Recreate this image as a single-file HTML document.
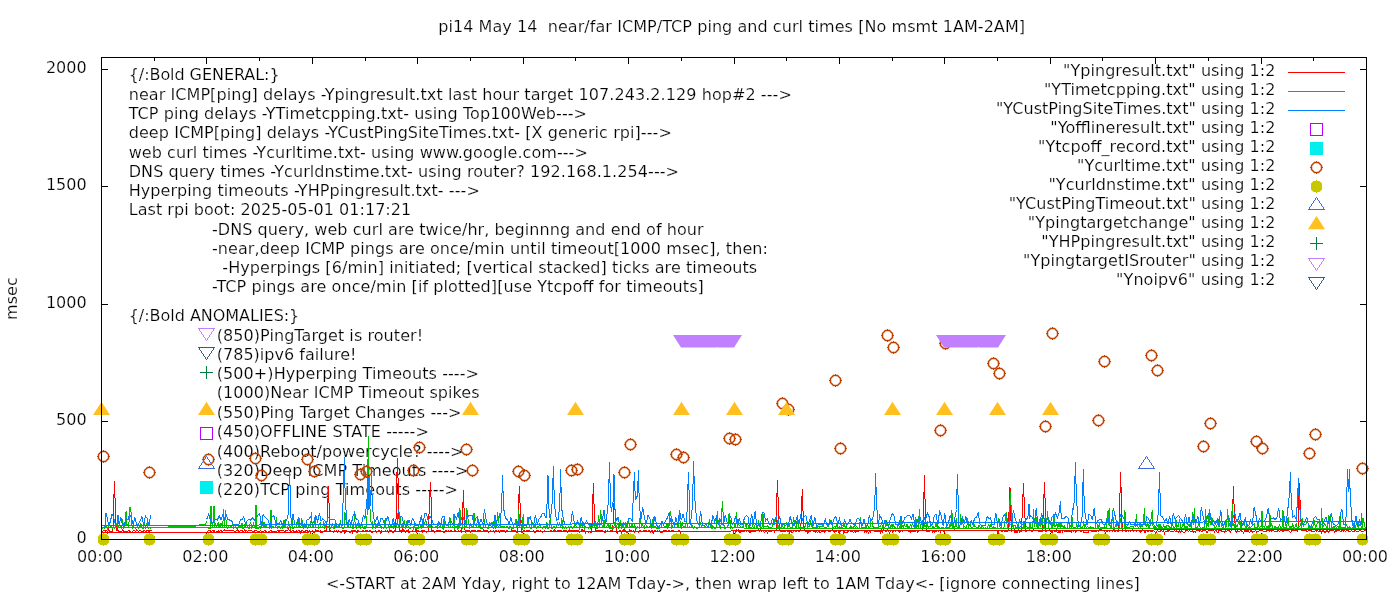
<!DOCTYPE html><html><head><meta charset="utf-8"><title>pi14 ping plot</title><style>html,body{margin:0;padding:0;background:#fff}svg{display:block}text{fill:#000;stroke:#fff;stroke-width:.2px}</style></head><body><svg width="1400" height="600" viewBox="0 0 1400 600" font-family="DejaVu Sans, Liberation Sans, sans-serif" font-size="16">
<rect width="1400" height="600" fill="#fff"/>
<g id="back">
<path d="M101.5 540v-7M101.5 57v7M154.5 540v-4M154.5 57v4M206.5 540v-7M206.5 57v7M259.5 540v-4M259.5 57v4M312.5 540v-7M312.5 57v7M365.5 540v-4M365.5 57v4M417.5 540v-7M417.5 57v7M470.5 540v-4M470.5 57v4M523.5 540v-7M523.5 57v7M575.5 540v-4M575.5 57v4M628.5 540v-7M628.5 57v7M681.5 540v-4M681.5 57v4M734.5 540v-7M734.5 57v7M786.5 540v-4M786.5 57v4M839.5 540v-7M839.5 57v7M892.5 540v-4M892.5 57v4M944.5 540v-7M944.5 57v7M997.5 540v-4M997.5 57v4M1050.5 540v-7M1050.5 57v7M1102.5 540v-4M1102.5 57v4M1155.5 540v-7M1155.5 57v7M1208.5 540v-4M1208.5 57v4M1261.5 540v-7M1261.5 57v7M1313.5 540v-4M1313.5 57v4M1366.5 540v-7M1366.5 57v7M101 539.5h7M1367 539.5h-7M101 421.5h7M1367 421.5h-7M101 304.5h7M1367 304.5h-7M101 186.5h7M1367 186.5h-7M101 69.5h7M1367 69.5h-7" stroke="#000" fill="none" shape-rendering="crispEdges"/>
<text x="86.6" y="542.8" text-anchor="end">0</text>
<text x="86.6" y="424.8" text-anchor="end">500</text>
<text x="86.6" y="307.8" text-anchor="end">1000</text>
<text x="86.6" y="189.8" text-anchor="end">1500</text>
<text x="86.6" y="72.8" text-anchor="end">2000</text>
<text x="100.0" y="561.7" text-anchor="middle">00:00</text>
<text x="205.4" y="561.7" text-anchor="middle">02:00</text>
<text x="310.8" y="561.7" text-anchor="middle">04:00</text>
<text x="416.2" y="561.7" text-anchor="middle">06:00</text>
<text x="521.7" y="561.7" text-anchor="middle">08:00</text>
<text x="627.1" y="561.7" text-anchor="middle">10:00</text>
<text x="732.5" y="561.7" text-anchor="middle">12:00</text>
<text x="837.9" y="561.7" text-anchor="middle">14:00</text>
<text x="943.3" y="561.7" text-anchor="middle">16:00</text>
<text x="1048.8" y="561.7" text-anchor="middle">18:00</text>
<text x="1154.2" y="561.7" text-anchor="middle">20:00</text>
<text x="1259.6" y="561.7" text-anchor="middle">22:00</text>
<text x="1365.0" y="561.7" text-anchor="middle">00:00</text>
<text x="438.2" y="32" textLength="586.8" lengthAdjust="spacing" xml:space="preserve" style="white-space:pre">pi14 May 14  near/far ICMP/TCP ping and curl times [No msmt 1AM-2AM]</text>
<text x="325.9" y="589.4" textLength="813.9" lengthAdjust="spacing">&lt;-START at 2AM Yday, right to 12AM Tday-&gt;, then wrap left to 1AM Tday&lt;- [ignore connecting lines]</text>
<text transform="translate(17.3,298.6) rotate(-90)" text-anchor="middle">msec</text>
</g>
<g id="labels">
<text x="128.7" y="80" textLength="150.9" lengthAdjust="spacing">{/:Bold GENERAL:}</text>
<text x="128.7" y="100" textLength="663.1" lengthAdjust="spacing">near ICMP[ping] delays -Ypingresult.txt last hour target 107.243.2.129 hop#2 ---&gt;</text>
<text x="128.7" y="119" textLength="458.3" lengthAdjust="spacing">TCP ping delays -YTimetcpping.txt- using Top100Web---&gt;</text>
<text x="128.7" y="138" textLength="543.1" lengthAdjust="spacing">deep ICMP[ping] delays -YCustPingSiteTimes.txt- [X generic rpi]---&gt;</text>
<text x="128.7" y="157.5" textLength="459.1" lengthAdjust="spacing">web curl times -Ycurltime.txt- using www.google.com---&gt;</text>
<text x="128.7" y="177" textLength="550.3" lengthAdjust="spacing">DNS query times -Ycurldnstime.txt- using router? 192.168.1.254---&gt;</text>
<text x="128.7" y="196" textLength="351.1" lengthAdjust="spacing">Hyperping timeouts -YHPpingresult.txt- ---&gt;</text>
<text x="128.7" y="215" textLength="282.5" lengthAdjust="spacing">Last rpi boot: 2025-05-01 01:17:21</text>
<text x="212" y="235" textLength="491.6" lengthAdjust="spacing">-DNS query, web curl are twice/hr, beginnng and end of hour</text>
<text x="212" y="254" textLength="555.9" lengthAdjust="spacing">-near,deep ICMP pings are once/min until timeout[1000 msec], then:</text>
<text x="212" y="273" textLength="545.2" lengthAdjust="spacing" xml:space="preserve" style="white-space:pre">  -Hyperpings [6/min] initiated; [vertical stacked] ticks are timeouts</text>
<text x="212" y="292" textLength="491.8" lengthAdjust="spacing">-TCP pings are once/min [if plotted][use Ytcpoff for timeouts]</text>
<text x="128.7" y="321" textLength="170.6" lengthAdjust="spacing">{/:Bold ANOMALIES:}</text>
<text x="216.7" y="341" textLength="206.4" lengthAdjust="spacing">(850)PingTarget is router!</text>
<text x="216.7" y="360" textLength="139.8" lengthAdjust="spacing">(785)ipv6 failure!</text>
<text x="216.7" y="379" textLength="262.3" lengthAdjust="spacing">(500+)Hyperping Timeouts ----&gt;</text>
<text x="216.7" y="398" textLength="262.8" lengthAdjust="spacing">(1000)Near ICMP Timeout spikes</text>
<text x="216.7" y="417.5" textLength="244.7" lengthAdjust="spacing">(550)Ping Target Changes ---&gt;</text>
<text x="216.7" y="437" textLength="212.1" lengthAdjust="spacing">(450)OFFLINE STATE -----&gt;</text>
<text x="216.7" y="456.5" textLength="246.7" lengthAdjust="spacing">(400)Reboot/powercycle? ----&gt;</text>
<text x="216.7" y="476" textLength="251.7" lengthAdjust="spacing">(320)Deep ICMP Timeouts ----&gt;</text>
<text x="216.7" y="495" textLength="241.3" lengthAdjust="spacing">(220)TCP ping Timeouts -----&gt;</text>
</g>
<g id="plot">
<path d="M206.9 531.1L207.8 531.4L208.7 530.4L209.6 530.7L210.4 530.6L211.3 532.1L212.2 530.7L213.1 531.3L213.9 530.4L214.8 532.1L215.7 532.3L216.6 531.2L217.5 531.5L218.3 531.1L219.2 532.6L220.1 530.5L221.0 530.6L221.9 531.2L222.7 531.5L223.6 530.5L224.5 530.0L225.4 530.8L226.2 530.7L227.1 530.4L228.0 530.9L228.9 530.2L229.8 530.8L230.6 530.2L231.5 530.7L232.4 530.3L233.3 530.6L234.1 531.2L235.0 531.8L235.9 531.1L236.8 530.8L237.7 529.5L238.5 531.8L239.4 531.2L240.3 530.6L241.2 530.7L242.1 530.8L242.9 531.3L243.8 531.4L244.7 530.1L245.6 531.5L246.4 530.7L247.3 531.3L248.2 530.9L249.1 530.5L250.0 530.8L250.8 531.0L251.7 530.2L252.6 531.8L253.5 532.0L254.4 531.0L255.2 530.4L256.1 530.1L257.0 531.3L257.9 531.2L258.7 531.1L259.6 531.4L260.5 530.6L261.4 531.5L262.3 531.5L263.1 532.8L264.0 531.2L264.9 530.6L265.8 531.4L266.7 531.5L267.5 532.2L268.4 531.5L269.3 531.6L270.2 531.0L271.0 530.0L271.9 532.3L272.8 531.3L273.7 531.0L274.6 532.4L275.4 531.1L276.3 531.4L277.2 530.6L278.1 530.6L279.0 532.7L279.8 530.3L280.7 531.0L281.6 530.2L282.5 530.9L283.3 530.5L284.2 531.5L285.1 532.3L286.0 530.5L286.9 530.8L287.7 530.5L288.6 529.1L289.5 530.6L290.4 530.5L291.2 531.9L292.1 531.0L293.0 530.6L293.9 531.5L294.8 532.8L295.6 532.4L296.5 530.6L297.4 531.4L298.3 530.7L299.2 530.8L300.0 531.3L300.9 533.3L301.8 530.9L302.7 530.7L303.5 531.4L304.4 531.2L305.3 531.1L306.2 530.2L307.1 530.5L307.9 531.2L308.8 532.3L309.7 531.0L310.6 532.9L311.5 531.2L312.3 530.6L313.2 531.5L314.1 532.8L315.0 531.1L315.8 529.3L316.7 531.0L317.6 531.0L318.5 530.2L319.4 531.2L320.2 530.8L321.1 532.6L322.0 532.9L322.9 531.3L323.8 532.0L324.6 530.8L325.5 530.7L326.4 530.9L327.5 513.4L328.4 486.0L329.3 511.0L329.9 531.4L330.8 530.8L331.7 531.3L332.5 531.1L333.4 532.2L334.3 530.5L335.2 532.0L336.1 530.5L336.9 530.4L337.8 532.5L338.7 530.7L339.6 531.4L340.4 531.7L341.3 532.6L342.2 530.7L343.1 531.3L344.0 530.2L344.8 533.1L345.7 530.7L346.6 530.7L347.5 531.5L348.4 531.5L349.2 531.4L350.1 532.5L351.0 531.3L351.9 529.9L352.7 532.7L353.6 530.4L354.5 530.6L355.4 531.0L356.3 531.0L357.1 532.9L358.0 530.4L358.9 531.0L359.8 531.7L360.6 531.4L361.5 531.5L362.4 530.5L363.3 530.3L364.2 531.7L365.0 531.4L365.9 529.9L366.8 530.5L367.7 530.6L368.6 531.7L369.4 530.3L370.3 530.6L371.2 531.7L372.1 532.7L372.9 531.0L373.8 531.1L374.7 531.0L375.6 530.4L376.5 531.9L377.3 531.2L378.2 531.1L379.1 530.6L380.0 530.6L380.9 533.6L381.7 530.7L382.6 531.1L383.5 531.3L384.4 531.4L385.2 530.5L386.1 531.4L387.0 531.0L387.9 530.7L388.8 532.7L389.6 530.6L390.5 530.5L391.4 531.0L392.3 531.0L393.2 532.8L394.0 531.7L394.9 530.8L395.8 531.2L396.5 490.2L397.4 458.0L398.3 487.4L399.3 531.5L400.2 530.7L401.1 530.5L401.9 532.8L402.8 529.2L403.7 530.5L404.6 531.0L405.5 532.5L406.3 530.4L407.2 531.5L408.1 529.8L409.0 532.6L409.8 531.6L410.7 531.5L411.6 531.4L412.5 530.8L413.4 531.2L414.2 531.7L415.1 531.3L416.0 529.2L416.9 532.2L417.8 530.5L418.6 531.0L419.5 531.2L420.4 531.2L421.3 531.0L422.1 532.4L423.0 530.4L423.9 530.3L424.8 531.5L425.7 531.0L426.5 532.6L427.4 531.5L428.3 530.8L429.5 503.0L430.4 482.0L431.3 504.3L431.8 530.4L432.7 531.4L433.6 531.0L434.4 532.3L435.3 531.2L436.2 531.8L437.1 529.9L438.0 530.9L438.8 530.1L439.7 531.1L440.6 530.5L441.5 531.4L442.3 531.5L443.2 532.0L444.1 532.7L445.0 530.8L445.9 531.2L446.7 530.8L447.6 531.4L448.5 530.7L449.4 531.4L450.3 531.2L451.1 530.1L452.0 531.6L452.9 532.0L453.8 531.1L454.6 529.5L455.5 531.1L456.4 531.1L457.3 531.1L458.2 530.9L459.0 531.3L459.9 531.2L460.8 530.7L461.7 532.1L462.5 519.6L463.4 490.0L464.3 517.1L465.2 532.8L466.1 530.6L466.9 531.4L467.8 530.2L468.7 530.8L469.6 530.7L470.5 532.2L471.3 530.6L472.2 530.6L473.1 531.1L474.0 530.5L474.9 530.9L475.7 530.8L476.6 531.7L477.5 530.9L478.4 530.5L479.2 530.2L480.1 530.7L481.0 530.7L481.9 531.7L482.8 531.4L483.6 529.9L484.5 531.3L485.4 531.0L486.3 530.4L487.1 531.2L488.0 530.8L488.9 532.4L489.8 531.0L490.7 530.2L491.5 531.4L492.4 531.3L493.3 530.7L494.2 532.3L495.1 531.2L495.9 530.7L496.8 530.9L497.7 531.5L498.6 530.5L499.4 531.9L500.3 530.4L501.2 531.3L502.1 530.4L503.0 531.8L503.8 530.9L504.7 530.4L505.6 532.2L506.5 531.0L507.4 530.6L508.2 531.1L509.1 531.4L510.0 531.2L510.9 531.4L511.7 529.9L512.6 530.9L513.5 530.6L514.4 530.6L515.3 530.4L516.1 531.2L517.0 532.7L517.9 531.0L518.5 504.4L519.4 486.0L520.3 511.1L521.4 532.7L522.3 532.3L523.2 530.9L524.0 530.6L524.9 531.2L525.8 531.2L526.7 530.7L527.6 530.7L528.4 531.1L529.3 530.4L530.2 531.0L531.1 531.1L532.0 532.2L532.8 531.6L533.7 530.4L534.6 532.3L535.5 532.1L536.3 530.9L537.2 531.1L538.1 530.8L539.0 531.3L539.9 531.9L540.7 531.0L541.6 531.9L542.5 532.7L543.4 531.4L544.2 530.8L545.1 531.1L546.0 531.1L546.9 531.3L547.8 531.4L548.6 531.5L549.5 531.7L550.4 530.8L551.3 530.4L552.2 531.2L553.0 531.5L553.9 530.7L554.8 529.9L555.7 531.1L556.5 531.2L557.4 530.8L558.3 531.1L559.2 530.6L560.1 531.1L560.9 530.6L561.8 531.3L562.7 531.0L563.6 530.7L564.5 531.2L565.3 530.4L566.2 530.4L567.1 532.4L568.0 531.3L568.8 530.8L569.7 530.5L570.6 531.0L571.5 530.4L572.4 530.5L573.2 530.9L574.1 532.1L575.0 529.9L575.9 531.1L576.8 530.6L577.6 530.5L578.5 530.9L579.4 532.4L580.3 531.5L581.1 531.3L582.0 529.2L582.9 532.0L583.8 530.7L584.7 530.8L585.5 532.9L586.4 531.0L587.3 531.1L588.2 532.4L589.1 531.2L589.9 531.9L590.8 532.8L591.7 532.5L592.5 510.3L593.4 483.0L594.3 513.7L595.2 530.7L596.1 530.4L597.0 530.3L597.8 531.0L598.7 530.2L599.6 530.9L600.5 530.5L601.4 531.5L602.2 530.2L603.1 531.1L604.0 532.0L604.9 532.7L605.7 531.0L606.6 531.1L607.5 530.7L608.4 531.3L609.3 531.1L610.1 531.5L611.0 530.0L611.9 530.3L612.8 530.6L613.5 511.6L614.4 496.0L615.3 515.8L616.3 530.9L617.2 533.7L618.0 531.2L618.9 531.5L619.8 530.5L620.7 531.1L621.6 532.8L622.4 530.5L623.3 531.0L624.2 529.1L625.1 531.3L625.9 530.5L626.8 532.4L627.7 531.9L628.6 531.3L629.5 529.9L630.3 530.8L631.2 530.5L632.1 531.4L633.0 532.0L633.9 530.3L634.7 532.5L635.6 530.1L636.5 531.5L637.4 531.2L638.2 532.4L639.1 531.3L640.0 530.5L640.9 530.8L641.8 531.2L642.6 531.2L643.5 530.9L644.4 530.8L645.3 530.4L646.2 530.9L647.0 531.5L647.9 532.1L648.8 530.6L649.7 531.2L650.5 532.2L651.4 530.9L652.3 530.5L653.2 533.5L654.1 530.7L654.9 530.5L655.8 531.3L656.7 531.0L657.6 530.8L658.5 531.4L659.3 530.6L660.2 531.4L661.1 532.8L662.0 532.5L662.8 532.2L663.7 530.6L664.6 530.5L665.5 531.0L666.4 530.9L667.2 531.5L668.1 530.8L669.0 530.3L669.9 531.4L670.8 531.0L671.6 531.0L672.5 530.6L673.4 530.5L674.3 531.3L675.1 532.2L676.0 531.2L676.9 531.2L677.8 531.3L678.7 530.9L679.5 530.6L680.4 531.2L681.3 539.2L682.2 539.2L683.0 539.2L683.9 539.2L684.8 539.2L685.7 539.2L686.6 539.2L687.4 539.2L688.3 539.2L689.2 539.2L690.1 539.2L691.0 539.2L691.8 539.2L692.7 539.2L693.6 539.2L694.5 539.2L695.3 539.2L696.2 539.2L697.1 539.2L698.0 539.2L698.9 539.2L699.7 539.2L700.6 539.2L701.5 539.2L702.4 539.2L703.3 539.2L704.1 539.2L705.0 539.2L705.9 539.2L706.8 539.2L707.6 539.2L708.5 539.2L709.4 539.2L710.3 539.2L711.2 539.2L712.0 539.2L712.9 539.2L713.8 539.2L714.7 539.2L715.6 539.2L716.4 539.2L717.3 539.2L718.2 539.2L719.1 539.2L719.9 539.2L720.8 539.2L721.7 539.2L722.6 539.2L723.5 539.2L724.3 539.2L725.2 539.2L726.1 539.2L727.0 539.2L727.9 539.2L728.7 539.2L729.6 539.2L730.5 539.2L731.4 539.2L732.2 539.2L733.1 539.2L734.0 530.8L734.9 530.5L735.8 532.3L736.6 530.1L737.5 530.7L738.4 530.0L739.3 532.2L740.1 532.7L741.0 531.1L741.9 531.1L742.8 531.0L743.7 531.4L744.5 531.0L745.4 530.8L746.3 531.4L747.2 531.0L748.1 530.9L748.9 531.3L749.8 532.9L750.7 531.1L751.6 531.1L752.4 531.0L753.3 531.5L754.2 531.2L755.1 531.1L756.0 531.2L756.8 530.8L757.7 531.0L758.6 530.0L759.5 530.9L760.4 530.0L761.2 531.1L762.1 531.1L763.0 530.6L763.9 531.8L764.7 532.8L765.6 530.9L766.5 531.1L767.4 533.0L768.3 531.3L769.1 532.2L770.0 530.9L770.9 531.3L771.8 530.8L772.7 530.8L773.5 530.4L774.4 532.1L775.3 530.5L776.2 530.7L776.7 500.5L777.6 480.0L778.5 516.8L779.7 530.9L780.6 531.2L781.4 531.3L782.3 531.3L783.2 531.3L784.1 531.4L785.0 531.5L785.8 530.7L786.7 531.0L787.6 531.5L788.5 530.5L789.3 532.8L790.2 530.9L791.1 531.8L792.0 532.2L792.9 532.0L793.7 530.7L794.6 530.4L795.5 531.7L796.4 531.1L797.2 530.5L798.1 531.1L799.0 532.2L799.9 531.5L800.8 530.1L801.5 505.8L802.4 489.0L803.3 520.2L804.3 529.0L805.2 530.7L806.0 531.5L806.9 530.7L807.8 533.1L808.7 531.5L809.5 531.0L810.4 531.2L811.3 530.4L812.2 531.1L813.1 530.6L813.9 531.8L814.8 531.3L815.7 532.5L816.6 531.4L817.5 532.5L818.3 531.4L819.2 531.5L820.1 532.5L821.0 532.1L821.8 531.0L822.7 531.2L823.6 531.5L824.5 532.0L825.4 531.3L826.2 530.4L827.1 530.5L828.0 531.1L828.9 531.7L829.8 530.9L830.6 531.1L831.5 530.4L832.4 529.9L833.3 530.6L834.1 532.4L835.0 531.3L835.9 531.5L836.8 530.7L837.7 530.9L838.5 531.3L839.4 533.6L840.3 530.6L841.2 530.7L842.1 530.6L842.9 530.6L843.8 533.2L844.7 531.8L845.6 532.2L846.4 532.9L847.3 532.3L848.2 531.1L849.1 530.5L850.0 530.8L850.8 531.2L851.7 532.0L852.6 531.2L853.5 532.3L854.4 531.3L855.2 532.4L856.1 531.4L857.0 531.0L857.9 531.0L858.7 531.2L859.6 530.4L860.5 530.5L861.4 530.7L862.3 530.4L863.1 530.4L864.0 531.1L864.9 532.4L865.8 530.7L866.6 532.1L867.5 531.1L868.4 533.0L869.3 531.8L870.2 532.3L871.0 530.2L871.9 531.0L872.8 530.9L873.7 530.6L874.6 531.6L875.4 531.7L876.3 531.3L877.2 531.2L878.1 531.5L878.9 531.6L879.8 531.1L880.7 532.9L881.6 530.4L882.5 532.0L883.3 529.9L884.2 530.5L885.1 530.4L886.0 531.3L886.9 531.0L887.7 529.8L888.6 531.4L889.5 533.4L890.4 530.8L891.2 530.6L892.1 530.9L893.0 532.4L893.9 530.8L894.8 530.9L895.6 531.5L896.5 530.6L897.4 530.6L898.3 530.5L899.2 532.5L900.0 531.4L900.9 531.1L901.8 530.4L902.7 531.3L903.5 530.5L904.4 530.2L905.3 530.4L906.2 530.8L907.1 530.7L907.9 530.8L908.8 531.5L909.7 531.2L910.6 532.1L911.5 530.8L912.3 531.4L913.2 531.5L914.1 531.4L915.0 530.8L915.8 531.3L916.7 530.4L917.6 531.9L918.5 531.1L919.4 530.8L920.2 530.6L921.1 531.0L922.0 530.4L922.9 530.7L923.5 514.0L924.4 475.0L925.3 509.3L926.4 531.6L927.3 531.8L928.1 531.1L929.0 531.5L929.9 531.2L930.8 530.4L931.7 530.7L932.5 532.2L933.4 531.4L934.3 532.2L935.2 531.1L936.0 530.4L936.9 531.3L937.8 530.5L938.7 531.1L939.6 530.7L940.4 531.9L941.3 530.1L942.2 530.8L943.1 531.1L944.0 531.2L944.8 531.1L945.7 539.2L946.6 539.2L947.5 539.2L948.3 539.2L949.2 539.2L950.1 539.2L951.0 539.2L951.9 539.2L952.7 539.2L953.6 539.2L954.5 539.2L955.4 539.2L956.3 539.2L957.1 539.2L958.0 539.2L958.9 539.2L959.8 539.2L960.6 539.2L961.5 539.2L962.4 539.2L963.3 539.2L964.2 539.2L965.0 539.2L965.9 539.2L966.8 539.2L967.7 539.2L968.6 539.2L969.4 539.2L970.3 539.2L971.2 539.2L972.1 539.2L972.9 539.2L973.8 539.2L974.7 539.2L975.6 539.2L976.5 539.2L977.3 539.2L978.2 539.2L979.1 539.2L980.0 539.2L980.9 539.2L981.7 539.2L982.6 539.2L983.5 539.2L984.4 539.2L985.2 539.2L986.1 539.2L987.0 539.2L987.9 539.2L988.8 539.2L989.6 539.2L990.5 539.2L991.4 539.2L992.3 539.2L993.1 539.2L994.0 539.2L994.9 539.2L995.8 539.2L996.7 539.2L997.5 531.1L998.4 533.6L999.3 530.0L1000.2 530.8L1001.1 531.2L1001.9 531.2L1002.8 531.0L1003.7 530.7L1004.6 531.4L1005.4 531.2L1006.3 531.7L1007.2 531.7L1008.1 530.7L1009.1 510.1L1010.0 487.0L1010.9 518.2L1011.6 531.0L1012.5 530.6L1013.4 530.8L1014.2 530.1L1015.1 532.9L1016.0 530.1L1016.9 532.9L1017.7 531.7L1018.6 529.9L1019.5 532.7L1020.4 531.6L1021.3 531.8L1022.5 509.5L1023.4 483.0L1024.3 503.2L1025.7 531.3L1026.5 531.4L1027.4 530.4L1028.3 530.1L1029.2 531.1L1030.0 530.6L1030.9 530.5L1031.8 531.5L1032.7 531.1L1033.6 530.1L1034.4 530.7L1035.3 530.6L1036.2 530.7L1037.1 530.9L1038.0 531.1L1038.8 531.1L1039.7 531.4L1040.6 530.9L1041.5 531.9L1042.3 531.5L1043.5 511.2L1044.4 482.0L1045.3 505.6L1045.9 532.2L1046.7 530.6L1047.6 530.7L1048.5 530.8L1049.4 530.0L1050.2 531.6L1051.1 531.3L1052.0 532.6L1052.9 530.5L1053.8 530.7L1054.6 531.3L1055.5 531.4L1056.4 530.1L1057.3 532.7L1058.2 532.3L1059.0 530.9L1059.9 532.6L1060.8 531.2L1061.7 530.1L1062.5 531.8L1063.4 530.3L1064.3 530.5L1065.2 532.1L1066.1 531.5L1066.9 531.2L1067.8 531.2L1068.7 531.0L1069.6 531.2L1070.5 530.9L1071.3 532.5L1072.2 530.3L1073.1 531.3L1074.0 531.3L1074.8 530.1L1075.7 532.2L1076.6 530.4L1077.5 530.6L1078.4 531.0L1079.2 530.7L1080.1 531.3L1081.0 531.9L1081.9 530.4L1082.8 530.4L1083.6 532.7L1084.5 532.6L1085.4 532.6L1086.3 532.2L1087.1 532.8L1088.0 532.7L1088.9 530.9L1089.8 530.4L1090.7 530.6L1091.5 531.5L1092.4 531.3L1093.3 531.1L1094.2 531.3L1095.1 531.7L1095.9 531.5L1096.8 530.9L1097.7 531.0L1098.6 531.2L1099.4 530.7L1100.3 529.1L1101.2 529.3L1102.1 530.1L1103.0 531.0L1103.8 530.9L1104.7 531.1L1105.6 533.3L1106.5 530.4L1107.4 531.4L1108.2 530.0L1109.1 531.5L1110.0 530.9L1110.9 530.9L1111.7 530.5L1112.6 531.5L1113.5 530.0L1114.4 531.7L1115.3 531.1L1116.1 530.6L1117.0 530.9L1117.9 531.2L1118.8 531.6L1119.7 503.9L1120.6 472.0L1121.5 504.1L1122.3 531.9L1123.2 530.8L1124.0 530.9L1124.9 530.5L1125.8 531.3L1126.7 531.2L1127.6 530.9L1128.4 531.3L1129.3 530.6L1130.2 531.3L1131.1 530.4L1131.9 531.1L1132.8 529.9L1133.7 531.4L1134.6 530.6L1135.5 530.6L1136.3 531.2L1137.2 530.7L1138.1 530.6L1139.0 531.0L1139.9 531.5L1140.7 532.5L1141.6 530.5L1142.5 529.3L1143.4 530.5L1144.2 530.7L1145.1 532.8L1146.0 530.7L1146.9 530.7L1147.8 531.5L1148.6 531.4L1149.5 530.4L1150.4 531.3L1151.3 531.5L1152.2 531.3L1153.0 530.9L1153.9 530.9L1154.8 531.3L1155.7 533.3L1156.5 531.5L1157.4 530.7L1158.3 531.4L1159.2 531.2L1160.1 532.1L1160.9 530.0L1161.8 530.8L1162.7 531.5L1163.6 530.4L1164.5 533.5L1165.3 531.7L1166.2 531.4L1167.1 530.7L1168.0 531.5L1168.8 530.6L1169.7 530.8L1170.6 531.3L1171.5 531.2L1172.4 531.2L1173.2 531.8L1174.1 530.8L1175.0 531.1L1175.9 531.2L1176.8 530.9L1177.6 531.2L1178.5 532.2L1179.4 529.7L1180.3 532.5L1181.1 530.4L1182.0 531.3L1182.9 532.2L1183.8 532.5L1184.7 532.3L1185.5 530.7L1186.4 530.9L1187.3 530.5L1188.2 531.1L1189.0 531.0L1189.9 530.9L1190.8 531.5L1191.7 531.0L1192.6 530.8L1193.4 532.3L1194.3 531.4L1195.2 532.2L1196.1 530.5L1197.0 530.5L1197.8 531.0L1198.7 530.1L1199.6 531.0L1200.5 530.6L1201.3 531.1L1202.2 531.3L1203.1 530.5L1204.0 529.3L1204.9 530.5L1205.7 530.5L1206.6 532.4L1207.5 532.0L1208.4 530.5L1209.3 530.9L1210.1 530.6L1211.0 530.2L1211.9 530.6L1212.8 530.8L1213.6 530.4L1214.5 532.0L1215.4 530.7L1216.3 529.9L1217.2 532.6L1218.0 532.8L1218.9 530.6L1219.8 530.3L1220.7 530.1L1221.6 531.5L1222.4 531.1L1223.3 531.4L1224.2 532.3L1225.1 530.6L1225.9 531.4L1226.8 531.2L1227.7 530.8L1228.6 530.1L1229.5 530.5L1230.3 532.1L1231.2 530.7L1232.5 516.9L1233.4 486.0L1234.3 512.3L1235.6 531.0L1236.5 532.2L1237.4 530.9L1238.2 531.2L1239.1 531.5L1240.0 530.9L1240.9 530.7L1241.8 531.1L1242.6 531.0L1243.5 533.1L1244.4 530.7L1245.3 531.3L1246.1 530.1L1247.0 532.2L1247.9 530.4L1248.8 531.3L1249.7 532.8L1250.5 530.9L1251.4 530.7L1252.3 532.0L1253.2 531.0L1254.1 531.6L1254.9 531.4L1255.8 530.4L1256.7 532.8L1257.6 531.2L1258.4 531.6L1259.3 531.0L1260.2 530.7L1261.1 530.8L1262.0 531.1L1262.8 530.7L1263.7 531.5L1264.6 531.5L1265.5 531.1L1266.4 531.4L1267.2 529.7L1268.1 530.9L1269.0 530.4L1269.9 531.2L1270.7 530.5L1271.6 531.1L1272.5 530.5L1273.4 530.6L1274.3 531.6L1275.1 531.0L1276.0 531.2L1276.9 531.7L1277.8 530.6L1278.7 531.0L1279.5 531.6L1280.4 530.5L1281.3 530.0L1282.2 530.8L1283.0 532.0L1283.9 530.1L1284.8 530.9L1285.7 530.8L1286.6 530.6L1287.4 530.4L1288.3 530.7L1289.2 531.1L1290.1 532.2L1291.0 532.3L1291.8 530.4L1292.7 530.5L1293.6 530.9L1294.5 530.4L1295.3 530.9L1296.2 530.6L1297.1 531.2L1298.0 530.7L1298.5 503.8L1299.4 483.0L1300.3 507.6L1301.5 530.1L1302.4 530.9L1303.2 531.0L1304.1 530.8L1305.0 530.9L1305.9 530.6L1306.8 531.4L1307.6 531.5L1308.5 530.4L1309.4 530.0L1310.3 530.7L1311.2 531.2L1312.0 530.8L1312.9 531.8L1313.8 531.1L1314.7 531.5L1315.5 530.8L1316.4 531.2L1317.3 530.1L1318.2 531.3L1319.1 531.4L1319.9 530.7L1320.8 531.0L1321.7 532.9L1322.6 530.3L1323.5 530.7L1324.3 531.9L1325.2 532.3L1326.1 531.2L1327.0 530.6L1327.8 531.1L1328.7 532.6L1329.6 530.8L1330.5 530.4L1331.4 531.0L1332.2 530.6L1333.1 530.9L1334.0 531.1L1334.9 532.3L1335.8 530.3L1336.6 531.1L1337.5 530.7L1338.4 530.7L1339.3 530.6L1340.1 530.9L1341.0 531.5L1341.9 530.4L1342.8 530.3L1343.7 531.4L1344.5 530.7L1345.4 531.2L1346.3 530.8L1347.2 531.0L1348.1 530.9L1348.9 531.1L1349.8 531.2L1350.7 531.5L1351.6 530.8L1352.4 531.4L1353.3 531.5L1354.2 531.2L1355.1 530.7L1356.0 530.9L1356.8 531.4L1357.7 531.1L1358.6 531.0L1359.5 530.9L1360.4 530.2L1361.2 531.5L1362.1 531.5L1363.0 531.1L1363.9 531.3L1364.7 530.4L1365.5 530.8L1365.5 529.5L102.5 532.5L102.5 530.9L102.5 531.5L103.3 530.9L104.1 530.9L105.0 530.5L105.9 531.2L106.8 530.6L107.6 532.8L108.5 529.1L109.4 531.1L110.3 531.5L111.2 531.5L112.0 531.3L112.9 531.0L113.6 505.4L114.5 481.0L115.4 510.4L116.4 531.2L117.3 529.0L118.2 530.8L119.1 531.3L119.9 531.5L120.8 531.7L121.7 531.8L122.6 529.7L123.5 531.3L124.3 531.5L125.2 531.8L126.1 530.8L127.0 532.1L127.9 531.2L128.7 530.1L129.6 531.3L130.5 531.5L131.4 532.4L132.2 531.6L133.1 530.7L134.0 530.8L134.9 531.1L135.8 531.2L136.6 529.9L137.5 530.5L138.4 531.1L139.3 531.0L140.2 530.4L141.0 531.2L141.9 532.0L142.8 531.5L143.7 530.9L144.5 530.8L145.4 531.0L146.3 531.4L147.2 530.3L148.1 531.4L148.9 530.5L149.8 531.3L150.7 530.1L151.6 530.4" fill="none" stroke="#ff0000" shape-rendering="crispEdges"/>
<path d="M206.9 527.4L207.8 527.8L208.7 528.6L209.6 528.3L210.4 528.7L211.0 506.0L212.2 527.5L213.1 522.5L214.0 506.0L214.8 527.1L215.7 523.1L216.6 528.0L217.5 523.3L218.3 522.7L219.2 527.8L220.1 523.4L221.0 526.4L221.9 522.9L222.7 527.3L223.6 509.0L224.5 526.6L225.4 509.6L226.2 522.5L227.1 527.8L228.0 528.4L228.9 526.3L229.8 525.4L230.6 527.3L231.5 527.7L232.4 522.4L233.3 527.9L234.1 525.8L235.0 525.8L235.9 527.9L236.8 528.7L237.7 528.0L238.5 526.4L239.4 526.3L240.3 525.6L241.2 527.0L242.1 522.7L242.9 528.0L243.8 528.0L244.7 524.7L245.6 526.0L246.4 522.5L247.3 527.3L248.2 528.6L249.1 528.3L250.0 524.2L250.8 522.5L251.7 528.5L252.6 527.6L253.5 523.7L254.4 526.7L255.2 528.5L256.0 505.0L257.0 528.7L257.9 528.6L258.7 528.4L259.6 526.8L260.5 528.4L261.4 523.5L262.3 519.9L263.1 526.7L264.0 522.5L264.9 526.9L265.8 524.6L266.7 527.6L267.5 527.3L268.4 527.5L269.3 528.4L270.2 527.1L271.0 510.0L271.9 527.7L272.8 526.8L273.7 526.6L274.6 527.8L275.4 527.9L276.3 517.0L277.2 528.5L278.1 526.0L279.0 527.7L279.8 526.9L280.7 528.0L281.6 526.6L282.5 528.7L283.3 520.4L284.2 528.4L285.1 518.7L286.0 527.1L286.9 527.7L287.7 528.6L288.6 521.3L289.5 526.9L290.4 528.6L291.2 524.6L292.1 518.5L293.0 528.6L293.9 527.6L294.8 526.6L295.6 527.2L296.5 526.6L297.4 519.5L298.3 527.0L299.2 518.5L300.0 527.5L300.9 527.4L301.8 518.0L302.7 527.4L303.5 528.3L304.4 523.4L305.3 527.7L306.2 523.5L307.1 528.4L307.9 528.3L308.8 524.5L309.7 525.1L310.6 528.3L311.5 511.8L312.3 527.1L313.2 527.3L314.1 524.0L315.0 517.4L315.8 527.2L316.7 527.8L317.6 527.2L318.5 527.9L319.4 523.2L320.2 523.0L321.1 527.2L322.0 528.0L322.9 526.8L323.8 521.5L324.6 528.4L325.5 527.2L326.4 522.8L327.3 526.9L328.1 526.7L329.0 527.6L329.9 528.0L330.8 528.1L331.7 526.5L332.5 523.2L333.4 528.3L334.3 528.5L335.2 524.1L336.1 527.7L336.9 528.0L337.8 527.7L338.7 526.4L339.6 526.6L340.4 519.8L341.3 526.8L342.2 527.4L343.1 528.5L344.0 528.4L344.8 512.0L345.7 517.5L346.6 523.9L347.5 526.9L348.4 525.9L349.2 527.8L350.1 527.0L351.0 524.2L351.9 523.1L352.7 528.4L353.6 528.3L354.5 514.5L355.4 527.6L356.3 528.1L357.1 525.2L358.0 523.2L358.9 527.4L359.8 526.6L360.6 528.1L361.5 524.1L362.4 524.9L363.3 528.2L364.2 528.1L365.0 526.2L365.9 528.3L366.8 527.4L367.5 488.7L368.4 436.0L369.3 492.7L370.3 515.8L371.2 523.1L372.1 522.0L372.9 528.3L373.8 526.6L374.7 520.4L375.6 527.9L376.5 527.2L377.3 523.3L378.2 527.7L379.1 527.9L380.0 527.1L380.9 525.2L381.7 528.4L382.6 527.8L383.5 528.6L384.4 527.7L385.2 518.2L386.1 528.0L387.0 528.0L387.9 527.3L388.8 525.0L389.6 528.5L390.5 526.9L391.4 527.0L392.3 526.3L393.2 528.0L394.0 523.5L394.9 527.7L395.8 527.6L396.7 525.5L397.5 522.7L398.4 526.5L399.3 522.3L400.2 515.6L401.1 526.1L401.9 527.7L402.8 523.7L403.7 526.6L404.6 520.2L405.5 528.1L406.3 527.7L407.2 519.7L408.1 526.3L409.0 527.0L409.8 528.2L410.7 528.6L411.6 527.4L412.5 527.4L413.4 528.7L414.2 525.2L415.1 527.8L416.0 528.6L416.9 528.0L417.8 528.7L418.6 528.7L419.5 521.1L420.4 527.5L421.3 528.5L422.1 524.3L423.0 527.9L423.9 524.5L424.8 523.1L425.7 518.9L426.5 524.7L427.4 527.4L428.3 526.8L429.2 526.4L430.0 524.0L430.9 526.6L431.8 527.6L432.7 526.5L433.6 527.4L434.4 527.0L435.3 527.0L436.2 526.6L437.1 528.2L438.0 522.9L438.8 525.4L439.7 527.1L440.6 526.4L441.5 520.1L442.3 527.6L443.2 528.5L444.1 517.6L445.0 527.7L445.9 527.1L446.7 527.9L447.6 527.6L448.5 527.3L449.4 517.6L450.3 518.3L451.1 528.2L452.0 527.2L452.9 527.9L453.8 514.5L454.6 528.5L455.5 527.0L456.4 526.4L457.3 528.2L458.2 522.8L459.0 528.5L459.9 508.3L460.8 524.6L461.7 523.4L462.6 528.1L463.4 527.2L464.3 527.2L465.2 526.4L466.1 528.2L466.9 508.5L467.8 518.2L468.7 523.1L469.6 528.6L470.5 523.1L471.3 526.4L472.2 527.0L473.1 526.6L474.0 513.2L474.9 523.8L475.7 525.1L476.6 526.3L477.5 518.9L478.4 524.7L479.2 527.7L480.1 524.3L481.0 528.7L481.9 528.1L482.8 528.2L483.6 527.1L484.5 519.2L485.4 526.7L486.3 527.0L487.1 527.9L488.0 528.6L488.9 526.4L489.8 522.8L490.7 524.0L491.5 522.6L492.4 522.4L493.3 528.7L494.2 527.2L495.1 519.6L495.9 528.7L496.8 524.0L497.7 511.9L498.6 523.3L499.4 513.1L500.3 520.9L501.2 528.0L502.1 526.4L503.0 528.1L503.8 526.2L504.7 527.8L505.6 527.3L506.5 526.8L507.4 526.4L508.2 527.5L509.1 528.7L510.0 526.6L510.9 527.6L511.7 528.1L512.6 528.6L513.5 528.1L514.4 523.4L515.3 524.1L516.1 518.8L517.0 528.4L517.9 523.1L518.8 510.2L519.7 527.4L520.5 524.1L521.4 526.4L522.3 528.1L523.2 513.8L524.0 527.2L524.9 528.2L525.8 527.3L526.7 527.2L527.6 517.3L528.4 517.7L529.3 526.8L530.2 527.4L531.1 528.5L532.0 522.5L532.8 524.4L533.7 526.9L534.6 526.6L535.5 524.5L536.3 528.7L537.2 526.4L538.1 526.6L539.0 526.1L539.9 523.6L540.7 526.9L541.6 527.8L542.5 528.1L543.4 526.6L544.2 526.9L545.1 528.3L546.0 526.5L546.9 522.5L547.8 528.6L548.6 528.6L549.5 527.3L550.4 514.7L551.3 528.2L552.2 528.7L553.0 527.7L553.9 526.5L554.8 526.8L555.7 528.5L556.5 527.3L557.4 523.0L558.3 525.6L559.2 523.1L560.1 525.6L560.9 526.5L561.8 517.7L562.7 528.6L563.6 526.6L564.5 528.0L565.3 526.7L566.2 528.5L567.1 528.2L568.0 527.3L568.8 526.2L569.7 528.6L570.6 526.8L571.5 526.8L572.4 527.8L573.2 526.6L574.1 527.5L575.0 522.6L575.9 525.7L576.8 527.6L577.6 527.4L578.5 527.1L579.4 528.6L580.3 526.5L581.1 522.9L582.0 526.4L582.9 527.0L583.8 522.0L584.7 528.4L585.5 526.8L586.4 527.6L587.3 527.2L588.2 528.4L589.1 527.2L589.9 523.1L590.8 528.0L591.7 527.6L592.6 526.7L593.4 523.2L594.3 526.6L595.2 523.1L596.1 525.7L597.0 528.6L597.8 524.6L598.7 514.7L599.6 526.7L600.5 510.3L601.4 517.7L602.2 527.3L603.1 527.1L604.0 520.2L604.9 527.4L605.7 527.6L606.6 527.7L607.5 523.5L608.4 524.7L609.3 528.6L610.1 524.2L611.0 528.4L611.9 528.6L612.8 528.5L613.6 528.4L614.5 524.0L615.4 519.9L616.3 528.1L617.2 524.1L618.0 523.9L618.9 528.3L619.8 526.7L620.7 519.7L621.6 528.6L622.4 527.8L623.3 522.1L624.2 528.7L625.1 526.8L625.9 522.4L626.8 527.4L627.7 527.3L628.6 518.8L629.5 527.3L630.3 526.9L631.2 526.7L632.1 522.8L633.0 526.5L633.9 528.1L634.7 525.3L635.6 528.6L636.5 528.2L637.4 526.9L638.2 527.0L639.1 527.9L640.0 518.3L640.9 522.5L641.8 526.5L642.6 524.1L643.5 527.8L644.4 528.1L645.3 523.0L646.2 525.7L647.0 527.9L647.9 526.7L648.8 527.5L649.7 527.4L650.5 524.3L651.4 528.2L652.3 527.7L653.2 517.5L654.1 527.4L654.9 527.7L655.8 526.9L656.7 528.2L657.6 528.2L658.5 528.5L659.3 528.3L660.2 524.1L661.1 524.6L662.0 528.0L662.8 527.1L663.7 527.0L664.6 526.4L665.5 527.4L666.4 525.4L667.2 527.7L668.1 523.6L669.0 526.5L669.9 512.8L670.8 511.6L671.6 528.5L672.5 527.3L673.4 524.0L674.3 524.8L675.1 524.1L676.0 524.3L676.9 524.2L677.8 527.1L678.7 524.8L679.5 512.9L680.4 527.5L681.3 528.3L682.2 522.2L683.0 525.9L683.9 526.4L684.8 526.7L685.7 526.4L686.6 520.6L687.4 524.7L688.3 527.9L689.2 526.7L690.1 527.5L691.0 527.4L691.8 524.1L692.7 526.5L693.6 528.1L694.5 526.7L695.3 527.2L696.2 528.0L697.1 528.2L698.0 527.7L698.9 528.1L699.7 524.6L700.6 523.2L701.5 526.4L702.4 527.9L703.3 527.0L704.1 527.1L705.0 526.7L705.9 526.7L706.8 527.8L707.6 527.5L708.5 527.4L709.4 518.8L710.3 526.4L711.2 528.6L712.0 525.4L712.9 528.3L713.8 526.7L714.7 528.3L715.6 528.6L716.4 527.6L717.3 511.4L718.2 524.1L719.1 519.2L719.9 527.9L720.8 528.5L721.5 516.1L722.4 501.0L723.3 517.2L724.3 528.5L725.2 528.3L726.1 527.1L727.0 527.1L727.9 527.0L728.7 514.3L729.6 513.2L730.5 528.3L731.4 527.2L732.2 528.6L733.1 527.5L734.0 528.1L734.9 524.7L735.8 527.1L736.6 511.6L737.5 527.5L738.4 523.1L739.3 525.6L740.1 526.2L741.0 527.5L741.9 527.4L742.8 526.5L743.7 526.8L744.5 520.6L745.4 524.5L746.3 528.4L747.2 522.7L748.1 525.3L748.9 527.9L749.8 526.9L750.7 527.6L751.6 528.4L752.4 525.5L753.3 528.1L754.2 527.7L755.1 524.8L756.0 524.3L756.8 527.6L757.7 528.0L758.6 520.4L759.5 526.0L760.4 526.1L761.2 528.4L762.1 526.6L763.0 514.0L763.9 527.0L764.7 526.4L765.6 526.3L766.5 526.9L767.4 525.6L768.3 526.8L769.1 527.5L770.0 528.6L770.9 527.5L771.8 527.6L772.7 524.2L773.5 524.9L774.4 524.4L775.3 517.3L776.2 523.3L777.0 524.3L777.9 528.5L778.8 525.6L779.7 527.4L780.6 527.7L781.4 528.0L782.3 522.9L783.2 528.0L784.1 527.7L785.0 523.4L785.8 523.2L786.7 522.5L787.6 527.7L788.5 525.3L789.3 524.8L790.2 527.5L791.1 528.7L792.0 527.6L792.9 522.5L793.7 517.4L794.6 525.4L795.5 526.7L796.4 528.0L797.2 519.2L798.1 523.1L799.0 527.5L799.9 527.8L800.8 526.8L801.6 527.2L802.5 528.1L803.4 527.4L804.3 527.0L805.2 526.5L806.0 524.2L806.9 522.2L807.8 527.4L808.7 526.5L809.5 526.4L810.4 520.5L811.3 526.9L812.2 523.0L813.1 528.1L813.9 527.6L814.8 527.4L815.7 528.1L816.6 528.7L817.5 527.0L818.3 526.6L819.2 527.2L820.1 526.6L821.0 526.7L821.8 526.5L822.7 525.9L823.6 526.0L824.5 527.8L825.4 527.9L826.2 527.8L827.1 526.9L828.0 527.1L828.9 526.4L829.8 519.0L830.6 522.7L831.5 520.8L832.4 528.6L833.3 528.0L834.1 526.6L835.0 526.3L835.9 527.6L836.8 523.9L837.7 527.2L838.5 527.3L839.4 526.5L840.3 528.1L841.2 526.5L842.1 528.2L842.9 527.2L843.8 522.8L844.7 527.0L845.6 527.1L846.4 526.2L847.3 528.3L848.2 528.3L849.1 528.5L850.0 527.5L850.8 525.9L851.7 527.0L852.6 528.4L853.5 528.0L854.4 524.5L855.2 527.8L856.1 526.8L857.0 526.8L857.9 527.7L858.7 528.4L859.6 526.5L860.5 517.2L861.4 527.0L862.3 527.6L863.1 527.2L864.0 527.1L864.9 528.0L865.8 526.9L866.6 528.1L867.5 524.4L868.4 527.8L869.3 528.6L870.2 526.5L871.0 520.0L871.9 520.0L872.8 526.2L873.7 527.3L874.6 527.2L875.4 527.2L876.3 527.6L877.2 527.5L878.1 528.2L878.9 525.9L879.8 526.4L880.7 527.0L881.6 522.5L882.5 527.8L883.3 526.5L884.2 528.1L885.1 527.0L886.0 520.2L886.9 526.3L887.7 522.7L888.6 527.6L889.5 527.8L890.4 528.3L891.2 524.4L892.1 527.3L893.0 523.9L893.9 526.5L894.8 527.5L895.6 528.3L896.5 528.3L897.4 528.6L898.3 523.8L899.2 526.5L900.0 527.7L900.9 519.4L901.8 527.0L902.7 525.3L903.5 527.0L904.4 524.1L905.3 527.0L906.2 526.9L907.1 523.9L907.9 527.9L908.8 526.1L909.7 527.8L910.6 523.9L911.5 528.5L912.3 523.0L913.2 525.7L914.1 526.6L915.0 528.0L915.8 517.1L916.7 527.0L917.6 525.5L918.5 526.7L919.4 508.9L920.2 528.5L921.1 523.9L922.0 523.4L922.9 526.4L923.8 527.7L924.6 523.3L925.5 526.5L926.4 526.6L927.3 521.2L928.1 527.3L929.0 526.5L929.9 527.0L930.8 525.9L931.7 524.8L932.5 528.1L933.4 527.0L934.3 528.0L935.2 526.9L936.0 523.1L936.9 526.3L937.8 527.6L938.7 526.8L939.6 528.7L940.4 528.6L941.3 527.3L942.2 527.5L943.1 527.4L944.0 528.0L944.8 528.4L945.7 527.9L946.6 527.1L947.5 527.3L948.3 527.0L949.2 527.3L950.1 523.2L951.0 526.6L951.9 510.0L952.7 528.1L953.6 526.1L954.5 528.5L955.4 525.0L956.3 518.4L957.1 527.9L958.0 528.6L958.9 526.7L959.8 528.7L960.6 513.9L961.5 524.7L962.4 516.7L963.3 527.2L964.2 526.6L965.0 527.1L965.9 528.5L966.8 526.9L967.7 517.7L968.6 528.5L969.4 524.5L970.3 523.9L971.2 528.3L972.1 528.5L972.9 528.0L973.8 523.0L974.7 526.1L975.6 526.6L976.5 527.3L977.3 527.8L978.2 528.4L979.1 525.0L980.0 526.8L980.9 527.7L981.7 526.5L982.6 525.8L983.5 528.7L984.4 528.6L985.2 527.5L986.1 528.2L987.0 528.0L987.9 526.4L988.8 524.7L989.6 528.0L990.5 526.2L991.4 522.0L992.3 528.6L993.1 526.5L994.0 528.3L994.9 527.2L995.8 528.2L996.7 528.2L997.5 527.1L998.4 518.4L999.3 525.7L1000.2 527.3L1001.1 527.3L1001.9 528.2L1002.8 528.5L1003.7 527.4L1004.6 526.7L1005.4 516.1L1006.3 511.6L1007.2 527.8L1008.1 528.0L1009.0 528.2L1009.5 509.4L1010.4 492.0L1011.3 510.7L1012.5 526.8L1013.4 527.0L1014.2 525.1L1015.1 525.1L1016.0 527.7L1016.9 527.0L1017.7 527.6L1018.6 524.1L1019.5 518.9L1020.4 523.5L1021.3 522.7L1022.1 527.2L1023.0 527.5L1023.9 521.5L1024.8 527.5L1025.7 527.0L1026.5 526.6L1027.4 527.3L1028.3 527.1L1029.2 528.5L1030.0 522.5L1030.9 527.3L1031.8 527.3L1032.7 527.5L1033.6 509.2L1034.4 526.8L1035.3 523.2L1036.2 516.8L1037.1 528.2L1038.0 522.7L1038.8 527.6L1039.7 518.9L1040.6 526.6L1041.5 522.8L1042.3 514.7L1043.2 527.0L1044.1 528.0L1045.0 518.5L1045.9 516.6L1046.7 523.5L1047.6 510.6L1048.5 528.5L1049.4 528.1L1050.2 528.0L1051.1 528.5L1052.0 523.2L1052.9 527.5L1053.8 514.1L1054.6 526.8L1055.5 526.7L1056.4 523.5L1057.3 527.6L1058.2 522.9L1059.0 527.2L1059.9 522.4L1060.8 527.6L1061.7 524.2L1062.5 526.4L1063.4 527.3L1064.3 526.2L1065.2 528.0L1066.1 527.9L1066.9 528.6L1067.8 522.6L1068.7 522.7L1069.6 527.3L1070.5 526.7L1071.3 527.3L1072.2 517.5L1073.1 527.7L1074.0 527.4L1074.8 527.1L1075.7 528.7L1076.6 522.5L1077.5 527.5L1078.4 526.9L1079.2 526.1L1080.1 526.1L1081.0 528.5L1081.9 527.7L1082.8 527.2L1083.6 521.3L1084.5 528.2L1085.4 525.1L1086.3 528.3L1087.1 526.8L1088.0 526.8L1088.9 527.4L1089.8 527.8L1090.7 526.3L1091.5 528.1L1092.4 527.9L1093.3 527.4L1094.2 528.2L1095.1 528.3L1095.9 523.7L1096.8 522.5L1097.7 528.0L1098.6 526.8L1099.4 523.0L1100.3 528.7L1101.2 527.7L1102.1 527.9L1103.0 526.7L1103.8 528.0L1104.7 526.7L1105.6 527.7L1106.5 528.1L1107.4 510.7L1108.2 525.1L1109.1 508.4L1110.0 525.6L1110.9 527.4L1111.7 526.7L1112.6 509.8L1113.5 526.4L1114.4 528.6L1115.3 526.5L1116.1 523.5L1117.0 526.5L1117.9 521.5L1118.8 524.3L1119.6 527.5L1120.5 518.2L1121.4 526.7L1122.3 527.9L1123.2 528.6L1124.0 528.7L1124.9 509.8L1125.8 528.6L1126.7 526.9L1127.6 528.5L1128.4 527.4L1129.3 527.8L1130.2 527.0L1131.1 526.4L1131.9 527.0L1132.8 526.6L1133.7 528.3L1134.6 522.9L1135.5 526.7L1136.3 514.1L1137.2 523.6L1138.1 527.8L1139.0 526.8L1139.9 522.6L1140.7 527.4L1141.6 525.7L1142.5 526.6L1143.4 523.6L1144.4 508.0L1145.1 526.2L1146.0 523.6L1146.9 526.5L1147.8 522.9L1148.6 527.8L1149.5 527.6L1150.4 522.4L1151.3 518.1L1152.2 510.5L1153.0 526.2L1153.9 527.6L1154.8 526.6L1155.7 528.2L1156.5 527.5L1157.4 526.5L1158.3 524.8L1159.2 528.6L1160.1 524.0L1160.9 527.5L1161.8 526.6L1162.7 528.2L1163.6 525.3L1164.5 527.7L1165.3 526.9L1166.2 527.4L1167.1 525.2L1168.0 525.1L1168.8 526.2L1169.7 527.4L1170.6 527.6L1171.5 527.5L1172.4 521.7L1173.2 527.3L1174.1 528.5L1175.0 527.3L1175.9 518.6L1176.8 526.7L1177.6 525.5L1178.5 526.4L1179.4 519.4L1180.3 525.2L1181.1 528.0L1182.0 527.2L1182.9 523.9L1183.8 523.3L1184.7 528.5L1185.5 526.6L1186.4 526.8L1187.3 527.9L1188.2 525.4L1189.0 524.1L1189.9 526.5L1190.8 526.4L1191.7 528.1L1192.6 511.9L1193.4 524.6L1194.4 508.0L1195.2 528.0L1196.1 527.1L1197.0 528.4L1197.8 526.4L1198.7 523.8L1199.6 525.7L1200.5 528.7L1201.3 528.6L1202.2 528.4L1203.1 527.6L1204.0 528.5L1204.9 526.5L1205.7 508.9L1206.6 528.3L1207.5 523.2L1208.4 527.2L1209.3 508.7L1210.1 525.3L1211.0 522.6L1211.9 517.4L1212.8 523.3L1213.6 524.8L1214.5 526.5L1215.4 528.7L1216.3 526.7L1217.2 524.6L1218.0 518.7L1218.9 527.1L1219.8 523.3L1220.7 520.7L1221.6 526.6L1222.4 528.0L1223.3 527.2L1224.2 523.9L1225.1 522.6L1225.9 527.8L1226.8 523.5L1227.7 509.2L1228.6 527.0L1229.5 524.4L1230.3 523.0L1231.2 525.9L1232.4 504.0L1233.0 525.8L1233.9 523.4L1234.7 528.4L1235.6 524.0L1236.5 526.6L1237.4 526.8L1238.2 522.6L1239.1 524.3L1240.0 520.6L1240.9 528.2L1241.8 525.3L1242.6 523.1L1243.5 523.2L1244.4 522.6L1245.3 527.3L1246.1 528.6L1247.0 524.5L1247.9 526.5L1248.8 528.2L1249.7 526.5L1250.5 527.8L1251.4 526.7L1252.3 525.6L1253.2 525.1L1254.1 523.8L1254.9 527.6L1255.8 527.6L1256.7 527.1L1257.6 527.5L1258.4 523.7L1259.3 528.4L1260.2 526.5L1261.1 526.7L1262.0 510.9L1262.8 527.0L1263.7 526.5L1264.6 527.2L1265.5 523.9L1266.4 527.4L1267.2 527.1L1268.1 525.7L1269.0 528.1L1269.9 512.8L1270.7 526.5L1271.6 523.0L1272.5 528.4L1273.4 528.5L1274.3 527.7L1275.1 526.4L1276.0 528.3L1276.9 527.1L1277.8 527.8L1278.7 527.8L1279.5 524.1L1280.4 527.6L1281.3 527.4L1282.2 526.9L1283.0 510.5L1283.9 527.5L1284.8 527.0L1285.7 527.8L1286.6 528.1L1287.4 520.0L1288.3 517.2L1289.2 528.0L1290.1 527.2L1291.0 526.5L1291.8 527.9L1292.7 524.3L1293.6 526.6L1294.5 528.5L1295.3 526.6L1296.2 523.2L1297.1 527.5L1298.0 528.3L1298.9 526.8L1299.7 526.4L1300.6 524.3L1301.5 527.7L1302.4 518.2L1303.2 526.6L1304.1 525.1L1305.0 524.8L1305.9 524.5L1306.8 522.7L1307.6 520.4L1308.5 527.0L1309.4 526.2L1310.3 528.1L1311.2 525.9L1312.0 528.1L1312.9 527.4L1313.8 519.4L1314.7 523.4L1315.5 527.7L1316.4 525.7L1317.3 522.7L1318.2 522.9L1319.1 522.0L1319.9 527.3L1320.8 528.3L1321.4 508.0L1322.6 527.5L1323.5 526.9L1324.3 523.6L1325.2 524.6L1326.1 526.1L1327.0 527.7L1327.8 525.6L1328.7 514.7L1329.6 527.6L1330.5 516.0L1331.4 527.2L1332.2 527.9L1333.1 526.6L1334.0 527.4L1334.9 526.5L1335.8 527.1L1336.6 527.5L1337.5 526.5L1338.4 526.8L1339.3 528.2L1340.1 514.0L1341.0 528.1L1341.9 527.5L1342.8 528.0L1343.7 527.6L1344.5 527.5L1345.4 527.4L1346.3 524.7L1347.2 526.5L1348.1 528.0L1348.9 527.8L1349.8 526.7L1350.7 527.4L1351.6 528.4L1352.4 528.4L1353.3 527.0L1354.2 522.6L1355.1 527.6L1356.0 525.0L1356.8 520.3L1357.7 522.9L1358.6 527.1L1359.5 524.5L1360.4 523.4L1361.2 527.1L1362.1 528.5L1363.0 518.2L1363.9 521.9L1364.7 526.4L1365.5 528.0L1365.5 528.5L102.5 527.5L102.5 527.7L102.5 527.9L103.3 527.2L104.1 528.2L105.0 525.7L105.9 526.9L106.8 526.5L107.6 528.5L108.5 525.5L109.4 523.5L110.3 526.4L111.2 526.9L112.0 528.3L112.9 528.3L113.8 526.5L114.7 528.1L115.6 525.8L116.4 524.0L117.3 523.1L118.2 527.8L119.1 525.5L119.9 525.8L120.8 526.4L121.7 528.1L122.6 519.2L123.5 528.3L124.3 528.0L125.2 523.6L126.1 511.1L127.0 525.0L127.9 524.5L128.7 527.6L130.0 507.0L131.4 514.0L132.2 528.4L133.1 526.6L134.0 527.5L134.9 526.9L135.8 528.2L136.6 527.0L137.5 526.7L138.4 528.3L139.3 526.7L140.2 527.0L141.0 523.6L141.9 526.8L142.8 528.3L143.7 528.7L144.5 521.0L145.4 528.6L146.3 524.1L147.2 523.1L148.1 528.1L148.9 528.5L149.8 527.2L150.7 528.3L151.6 527.8" fill="none" stroke="#00c000" shape-rendering="crispEdges"/>
<path d="M150.5 527.5L186.5 526.5H194.5L200.5 524.5H205.5L206.5 521.5" fill="none" stroke="#00c000" shape-rendering="crispEdges"/>
<path d="M206.9 518.8L208.7 514.0L210.4 519.9L212.2 523.8L213.9 521.4L215.7 519.1L217.5 520.0L219.2 515.2L221.0 520.2L222.7 514.9L224.5 519.1L226.2 514.8L228.0 519.5L229.8 520.1L231.5 520.2L233.3 525.0L235.0 524.4L236.8 524.0L238.5 525.2L240.3 520.0L242.1 519.9L243.8 517.0L245.6 524.0L247.3 520.2L249.1 519.5L250.8 520.1L252.6 517.6L254.4 520.2L256.1 518.2L257.9 515.2L259.6 513.3L261.4 526.7L263.1 514.8L264.9 516.8L266.7 518.5L268.4 520.2L270.2 527.5L271.9 516.5L273.7 515.5L275.4 521.2L277.2 523.9L279.0 524.0L280.7 520.9L282.5 524.3L284.2 521.7L286.0 520.7L287.7 518.4L288.5 509.1L289.4 468.0L290.3 492.6L291.2 524.0L293.0 514.2L294.8 523.9L296.5 524.4L298.3 518.2L300.0 525.2L301.8 521.1L303.5 525.6L305.3 527.2L307.1 519.6L308.8 519.5L310.6 516.5L312.3 524.6L314.1 521.1L315.8 515.8L317.6 521.5L319.4 513.1L321.1 521.1L322.9 518.8L324.6 520.5L326.4 524.1L328.1 517.0L329.9 519.3L331.7 519.9L333.4 519.1L335.2 520.0L336.9 527.4L338.7 525.3L340.4 524.9L342.2 525.7L343.5 489.9L344.4 457.0L345.3 502.0L347.5 527.0L349.2 519.6L351.0 525.4L352.7 517.2L354.5 512.4L356.3 519.7L358.0 520.1L359.8 525.6L361.5 524.9L363.3 515.3L365.0 518.4L367.1 498.2L368.0 476.0L368.9 509.8L370.6 503.9L371.5 475.0L372.4 507.3L373.8 518.8L375.6 521.6L377.3 516.2L379.1 526.0L380.9 518.6L382.6 518.7L384.4 524.7L386.1 520.8L387.9 516.4L389.6 524.0L391.4 526.8L393.2 518.1L394.9 525.4L396.7 525.7L398.4 509.1L400.2 517.4L401.9 516.5L403.7 524.1L405.5 524.7L407.2 525.6L409.0 520.4L410.7 524.8L412.5 518.8L414.2 521.5L416.0 525.8L417.8 525.3L419.5 523.9L421.3 515.5L423.0 525.0L424.8 513.4L426.5 513.6L428.3 521.1L430.0 516.5L431.8 519.6L433.6 524.4L435.3 524.0L437.1 524.4L438.8 521.6L440.6 525.1L442.3 516.8L444.1 516.5L445.9 525.0L447.6 525.3L449.4 521.9L451.1 521.0L452.9 525.1L454.6 515.7L456.4 519.1L458.2 512.4L459.9 524.5L461.7 517.1L463.4 517.2L465.2 523.9L466.9 516.6L468.7 515.9L470.5 515.7L472.2 515.7L474.0 524.7L475.7 518.3L477.5 516.3L479.2 524.3L481.0 519.2L482.8 524.0L484.5 509.0L486.3 521.4L488.0 525.1L489.8 525.0L491.5 526.7L493.3 525.4L495.1 514.9L496.8 524.8L498.6 526.5L500.3 524.3L501.7 502.4L502.6 475.0L503.5 507.9L505.6 518.5L507.4 519.5L509.1 524.8L510.9 517.5L512.6 524.1L514.4 524.7L516.1 525.1L517.9 524.5L519.7 516.1L521.4 521.5L523.2 525.5L524.9 525.3L526.7 525.4L528.4 519.5L530.2 516.7L532.0 524.7L533.7 524.8L535.5 514.8L537.2 524.5L539.0 518.6L540.7 517.2L542.5 513.1L544.2 513.8L546.2 518.4L547.1 502.8L548.0 475.0L548.9 507.9L549.8 517.5L551.6 512.1L552.5 493.8L553.4 466.0L554.3 500.8L555.2 510.6L556.5 520.2L558.3 519.4L559.7 505.8L560.6 469.0L561.5 507.1L563.6 520.8L565.3 524.2L567.1 524.9L568.8 524.6L570.6 525.0L572.4 511.0L574.1 521.7L575.9 525.5L577.6 520.9L579.4 525.4L581.1 517.6L582.9 525.1L584.7 524.6L586.4 521.0L588.2 524.5L589.9 524.4L591.7 525.5L593.4 524.1L595.2 521.8L597.0 526.2L598.7 524.1L600.5 524.7L602.2 520.7L604.0 510.3L605.7 524.3L607.6 508.9L608.5 500.1L609.4 462.0L610.3 492.5L611.2 511.8L613.1 501.3L614.0 474.0L614.9 507.5L616.3 521.2L618.0 517.2L619.8 525.3L621.6 524.7L623.3 523.9L625.1 524.4L626.8 525.6L628.6 518.6L630.3 518.2L632.1 520.8L633.5 494.1L634.4 472.0L635.3 499.7L637.5 495.7L638.4 470.0L639.3 504.0L640.9 520.2L642.6 507.2L644.4 517.2L646.2 524.2L647.9 515.3L649.7 517.6L651.4 525.6L653.2 524.7L654.9 516.3L656.7 525.4L658.5 527.2L660.2 524.8L662.0 521.2L663.7 524.8L665.5 520.8L667.2 518.2L669.0 513.2L670.8 521.3L672.5 520.1L674.3 525.5L676.0 517.6L677.8 525.2L679.5 510.3L681.3 520.3L683.0 514.2L684.8 521.2L686.6 521.7L687.5 500.9L688.4 472.0L689.3 498.4L690.1 525.3L691.8 513.7L692.7 496.9L693.6 461.0L694.5 491.8L695.4 508.0L697.1 521.4L698.9 525.1L700.6 511.1L702.4 525.1L704.1 525.4L705.9 524.4L707.6 527.1L709.4 524.2L711.2 525.2L712.9 515.5L714.7 521.5L716.4 516.9L718.2 525.1L719.9 518.8L721.7 523.8L723.5 525.3L725.2 515.4L727.0 521.8L728.7 525.3L730.5 515.6L732.2 524.4L734.0 521.7L735.8 515.9L737.5 525.9L739.3 517.8L741.0 524.5L742.8 524.1L744.5 517.6L746.3 515.5L748.1 517.2L749.8 527.5L751.6 513.7L753.3 524.6L755.1 511.0L756.8 525.6L758.6 525.0L760.4 525.2L762.1 513.0L763.9 512.8L765.6 520.8L767.4 518.6L769.1 524.2L770.9 524.2L772.7 517.8L774.4 525.4L776.2 515.6L777.9 524.4L779.7 516.2L781.4 525.3L783.2 524.4L785.0 526.1L786.7 524.5L788.5 524.8L790.2 515.7L792.0 524.2L793.7 525.3L795.5 521.4L797.2 516.1L799.0 524.3L800.8 515.5L802.5 519.5L804.3 516.1L806.0 515.7L807.8 525.8L809.5 520.7L811.3 515.4L813.1 526.4L814.8 517.2L816.6 526.7L818.3 524.5L820.1 524.2L821.8 524.2L823.6 524.0L825.4 519.6L827.1 525.3L828.9 523.8L830.6 521.8L832.4 524.6L834.1 518.3L835.9 516.4L837.7 523.8L839.4 518.8L841.2 525.2L842.9 525.1L844.7 520.2L846.4 525.5L848.2 524.0L850.0 518.9L851.7 523.8L853.5 524.2L855.2 525.1L857.0 518.9L858.7 518.2L860.5 521.5L862.3 525.2L864.0 519.2L865.8 525.4L867.5 525.6L869.3 515.6L871.0 520.6L872.8 518.7L874.7 506.0L875.6 473.0L876.5 502.5L878.1 525.2L879.8 515.2L881.6 518.7L883.3 525.0L885.1 519.9L886.9 521.7L888.6 527.3L890.4 518.4L892.1 513.5L893.9 515.3L895.6 524.1L897.4 525.0L899.2 524.1L900.9 515.8L902.7 524.1L904.4 518.3L906.2 516.6L907.9 515.7L909.7 515.7L911.5 519.1L913.2 513.6L915.0 526.8L916.7 524.4L918.5 517.8L920.2 517.5L922.0 524.8L923.8 517.1L925.5 520.4L927.3 513.1L929.0 516.5L930.8 525.3L932.5 524.7L934.3 515.7L936.0 513.7L937.8 525.6L939.6 510.6L941.3 516.2L943.1 525.6L944.8 513.3L946.6 526.2L948.3 523.9L950.1 515.5L951.9 519.5L953.6 524.7L955.4 515.0L956.5 509.5L957.4 474.0L958.3 504.9L958.9 525.2L960.6 524.8L962.4 516.1L964.2 524.3L965.9 516.2L967.7 524.9L969.4 525.5L971.2 520.3L972.9 524.2L974.7 518.2L976.5 517.0L978.2 513.1L980.0 524.3L981.7 525.4L983.5 525.4L985.2 525.2L987.0 516.7L988.8 518.3L990.5 518.0L992.3 524.8L994.0 524.8L995.8 512.8L997.5 524.6L999.3 519.9L1001.1 526.5L1002.8 517.0L1004.6 514.9L1006.3 515.6L1008.1 521.8L1009.8 524.5L1011.6 524.7L1013.4 510.2L1015.1 518.2L1016.9 523.8L1018.6 527.5L1020.4 526.7L1022.1 524.9L1023.9 523.9L1025.7 520.0L1027.4 518.0L1028.1 515.6L1029.0 504.0L1029.9 517.5L1030.9 515.8L1032.7 517.4L1034.4 524.3L1036.2 508.4L1038.0 525.1L1039.7 524.4L1041.5 514.3L1043.2 518.3L1045.0 518.3L1046.7 520.9L1048.5 517.8L1050.2 524.6L1052.0 516.8L1053.8 517.2L1055.5 513.1L1057.3 518.0L1059.5 511.4L1060.4 501.0L1061.3 518.5L1062.5 518.3L1064.3 518.5L1066.1 516.4L1067.8 517.2L1069.6 525.7L1071.3 525.5L1072.5 508.7L1073.6 509.4L1074.5 494.6L1075.4 462.0L1076.3 494.0L1077.2 509.0L1078.4 526.5L1080.1 525.4L1081.9 521.1L1082.5 499.0L1083.4 469.0L1084.3 507.8L1085.4 515.5L1087.1 525.2L1088.9 514.8L1090.7 515.3L1092.4 520.3L1094.2 507.9L1095.9 523.9L1097.7 520.4L1099.4 519.9L1101.2 519.3L1103.0 524.0L1104.7 525.3L1106.5 521.1L1108.2 519.0L1110.0 523.9L1111.7 521.5L1113.4 508.0L1115.3 516.8L1117.0 525.1L1118.8 524.1L1120.5 514.8L1122.3 515.5L1124.0 519.0L1125.8 523.8L1127.6 525.3L1129.3 521.7L1131.1 524.7L1132.8 524.9L1134.6 524.4L1136.3 525.1L1138.1 524.4L1139.9 524.6L1141.6 524.6L1143.4 524.0L1145.1 525.1L1146.9 517.0L1148.6 518.7L1150.4 525.4L1152.2 521.7L1153.9 525.1L1155.7 527.0L1157.4 519.2L1158.5 511.4L1159.4 472.0L1160.3 502.2L1160.9 515.8L1162.7 517.3L1164.5 521.4L1166.2 518.4L1168.0 524.3L1169.7 515.7L1171.5 526.6L1173.2 513.3L1175.0 519.0L1176.8 517.1L1178.5 515.3L1180.3 518.2L1182.0 520.5L1183.8 525.2L1185.5 514.0L1187.3 525.3L1189.0 517.5L1190.8 525.5L1192.6 517.0L1194.3 517.2L1196.1 521.7L1197.8 516.2L1199.6 525.0L1201.3 507.3L1203.1 516.4L1204.9 524.0L1206.6 520.6L1208.4 513.8L1210.1 513.4L1211.9 525.4L1213.6 520.8L1215.4 524.2L1217.2 519.3L1218.9 526.1L1220.7 509.7L1222.4 525.2L1224.2 524.5L1225.9 520.4L1227.7 517.9L1229.5 518.4L1231.2 527.5L1233.0 517.6L1234.7 513.1L1236.5 520.9L1238.2 519.2L1240.0 513.2L1241.8 525.6L1243.5 524.4L1245.3 517.8L1247.0 524.6L1248.8 525.3L1250.5 520.4L1252.3 524.4L1254.1 507.6L1255.8 514.2L1257.6 525.4L1259.3 518.4L1261.1 521.7L1262.8 521.4L1264.6 521.3L1266.4 516.8L1268.1 508.5L1269.9 519.9L1271.6 518.3L1273.4 518.0L1275.1 519.4L1276.9 517.7L1278.7 507.6L1280.4 521.2L1282.2 518.6L1283.9 515.9L1285.7 525.7L1287.4 513.1L1289.5 493.6L1290.4 472.0L1291.3 502.9L1292.7 517.4L1294.5 515.7L1296.2 518.9L1297.5 500.6L1298.4 478.0L1299.3 502.9L1301.5 524.2L1303.2 524.7L1305.0 521.4L1306.8 517.4L1308.5 524.7L1310.3 527.2L1312.0 523.9L1313.8 518.4L1315.5 516.4L1317.3 519.3L1319.1 519.8L1320.8 523.9L1322.6 525.0L1324.3 519.9L1326.1 517.1L1327.8 524.8L1329.6 516.7L1331.4 513.7L1333.1 523.8L1334.9 524.8L1336.6 525.6L1338.4 523.8L1340.1 515.8L1341.9 508.9L1343.7 524.5L1345.4 525.1L1346.5 510.1L1347.4 469.0L1348.5 491.5L1349.4 469.0L1350.3 498.0L1352.4 525.5L1354.2 527.4L1356.0 516.1L1357.7 527.4L1359.5 520.7L1361.2 525.0L1361.5 513.3L1361.5 518.1L1361.5 521.5L102.5 525.5L102.5 525.3L103.3 525.1L105.0 526.5L106.0 513.0L106.8 515.4L108.5 525.1L110.3 521.9L112.0 514.0L113.8 518.0L115.6 525.5L117.3 525.6L118.0 515.0L119.1 525.2L120.8 517.0L122.6 525.7L124.3 525.2L126.1 518.4L127.9 519.9L129.6 514.5L131.4 518.1L133.1 524.6L134.9 517.1L136.6 525.1L138.4 524.2L140.2 521.0L141.9 516.1L143.7 525.6L145.4 516.1L147.2 518.6L148.9 526.4L150.7 514.7" fill="none" stroke="#0080ff" shape-rendering="crispEdges"/>
<rect x="200.5" y="427.5" width="12" height="12" fill="none" stroke="#c000ff" shape-rendering="crispEdges"/>
<rect x="200.5" y="481.5" width="12" height="12" fill="#00eeee" stroke="#00eeee" shape-rendering="crispEdges"/>
<path d="M101.5 451.5h4l3 3v4l-3 3h-4l-3 -3v-4z" fill="none" stroke="#c04000" stroke-width="1.5"/>
<path d="M97.0 456.5h2M108.0 456.5h2M103.5 450.0v2M103.5 461.0v2" stroke="#c04000" fill="none" shape-rendering="crispEdges"/>
<path d="M147.5 467.5h4l3 3v4l-3 3h-4l-3 -3v-4z" fill="none" stroke="#c04000" stroke-width="1.5"/>
<path d="M143.0 472.5h2M154.0 472.5h2M149.5 466.0v2M149.5 477.0v2" stroke="#c04000" fill="none" shape-rendering="crispEdges"/>
<path d="M206.5 454.5h4l3 3v4l-3 3h-4l-3 -3v-4z" fill="none" stroke="#c04000" stroke-width="1.5"/>
<path d="M202.0 459.5h2M213.0 459.5h2M208.5 453.0v2M208.5 464.0v2" stroke="#c04000" fill="none" shape-rendering="crispEdges"/>
<path d="M253.5 453.5h4l3 3v4l-3 3h-4l-3 -3v-4z" fill="none" stroke="#c04000" stroke-width="1.5"/>
<path d="M249.0 458.5h2M260.0 458.5h2M255.5 452.0v2M255.5 463.0v2" stroke="#c04000" fill="none" shape-rendering="crispEdges"/>
<path d="M259.5 470.5h4l3 3v4l-3 3h-4l-3 -3v-4z" fill="none" stroke="#c04000" stroke-width="1.5"/>
<path d="M255.0 475.5h2M266.0 475.5h2M261.5 469.0v2M261.5 480.0v2" stroke="#c04000" fill="none" shape-rendering="crispEdges"/>
<path d="M305.5 454.5h4l3 3v4l-3 3h-4l-3 -3v-4z" fill="none" stroke="#c04000" stroke-width="1.5"/>
<path d="M301.0 459.5h2M312.0 459.5h2M307.5 453.0v2M307.5 464.0v2" stroke="#c04000" fill="none" shape-rendering="crispEdges"/>
<path d="M312.5 466.5h4l3 3v4l-3 3h-4l-3 -3v-4z" fill="none" stroke="#c04000" stroke-width="1.5"/>
<path d="M308.0 471.5h2M319.0 471.5h2M314.5 465.0v2M314.5 476.0v2" stroke="#c04000" fill="none" shape-rendering="crispEdges"/>
<path d="M358.5 469.5h4l3 3v4l-3 3h-4l-3 -3v-4z" fill="none" stroke="#c04000" stroke-width="1.5"/>
<path d="M354.0 474.5h2M365.0 474.5h2M360.5 468.0v2M360.5 479.0v2" stroke="#c04000" fill="none" shape-rendering="crispEdges"/>
<path d="M364.5 466.5h4l3 3v4l-3 3h-4l-3 -3v-4z" fill="none" stroke="#c04000" stroke-width="1.5"/>
<path d="M360.0 471.5h2M371.0 471.5h2M366.5 465.0v2M366.5 476.0v2" stroke="#c04000" fill="none" shape-rendering="crispEdges"/>
<path d="M411.5 465.5h4l3 3v4l-3 3h-4l-3 -3v-4z" fill="none" stroke="#c04000" stroke-width="1.5"/>
<path d="M407.0 470.5h2M418.0 470.5h2M413.5 464.0v2M413.5 475.0v2" stroke="#c04000" fill="none" shape-rendering="crispEdges"/>
<path d="M417.5 442.5h4l3 3v4l-3 3h-4l-3 -3v-4z" fill="none" stroke="#c04000" stroke-width="1.5"/>
<path d="M413.0 447.5h2M424.0 447.5h2M419.5 441.0v2M419.5 452.0v2" stroke="#c04000" fill="none" shape-rendering="crispEdges"/>
<path d="M464.5 444.5h4l3 3v4l-3 3h-4l-3 -3v-4z" fill="none" stroke="#c04000" stroke-width="1.5"/>
<path d="M460.0 449.5h2M471.0 449.5h2M466.5 443.0v2M466.5 454.0v2" stroke="#c04000" fill="none" shape-rendering="crispEdges"/>
<path d="M470.5 465.5h4l3 3v4l-3 3h-4l-3 -3v-4z" fill="none" stroke="#c04000" stroke-width="1.5"/>
<path d="M466.0 470.5h2M477.0 470.5h2M472.5 464.0v2M472.5 475.0v2" stroke="#c04000" fill="none" shape-rendering="crispEdges"/>
<path d="M516.5 466.5h4l3 3v4l-3 3h-4l-3 -3v-4z" fill="none" stroke="#c04000" stroke-width="1.5"/>
<path d="M512.0 471.5h2M523.0 471.5h2M518.5 465.0v2M518.5 476.0v2" stroke="#c04000" fill="none" shape-rendering="crispEdges"/>
<path d="M522.5 470.5h4l3 3v4l-3 3h-4l-3 -3v-4z" fill="none" stroke="#c04000" stroke-width="1.5"/>
<path d="M518.0 475.5h2M529.0 475.5h2M524.5 469.0v2M524.5 480.0v2" stroke="#c04000" fill="none" shape-rendering="crispEdges"/>
<path d="M569.5 465.5h4l3 3v4l-3 3h-4l-3 -3v-4z" fill="none" stroke="#c04000" stroke-width="1.5"/>
<path d="M565.0 470.5h2M576.0 470.5h2M571.5 464.0v2M571.5 475.0v2" stroke="#c04000" fill="none" shape-rendering="crispEdges"/>
<path d="M575.5 464.5h4l3 3v4l-3 3h-4l-3 -3v-4z" fill="none" stroke="#c04000" stroke-width="1.5"/>
<path d="M571.0 469.5h2M582.0 469.5h2M577.5 463.0v2M577.5 474.0v2" stroke="#c04000" fill="none" shape-rendering="crispEdges"/>
<path d="M622.5 467.5h4l3 3v4l-3 3h-4l-3 -3v-4z" fill="none" stroke="#c04000" stroke-width="1.5"/>
<path d="M618.0 472.5h2M629.0 472.5h2M624.5 466.0v2M624.5 477.0v2" stroke="#c04000" fill="none" shape-rendering="crispEdges"/>
<path d="M628.5 439.5h4l3 3v4l-3 3h-4l-3 -3v-4z" fill="none" stroke="#c04000" stroke-width="1.5"/>
<path d="M624.0 444.5h2M635.0 444.5h2M630.5 438.0v2M630.5 449.0v2" stroke="#c04000" fill="none" shape-rendering="crispEdges"/>
<path d="M674.5 449.5h4l3 3v4l-3 3h-4l-3 -3v-4z" fill="none" stroke="#c04000" stroke-width="1.5"/>
<path d="M670.0 454.5h2M681.0 454.5h2M676.5 448.0v2M676.5 459.0v2" stroke="#c04000" fill="none" shape-rendering="crispEdges"/>
<path d="M681.5 452.5h4l3 3v4l-3 3h-4l-3 -3v-4z" fill="none" stroke="#c04000" stroke-width="1.5"/>
<path d="M677.0 457.5h2M688.0 457.5h2M683.5 451.0v2M683.5 462.0v2" stroke="#c04000" fill="none" shape-rendering="crispEdges"/>
<path d="M727.5 433.5h4l3 3v4l-3 3h-4l-3 -3v-4z" fill="none" stroke="#c04000" stroke-width="1.5"/>
<path d="M723.0 438.5h2M734.0 438.5h2M729.5 432.0v2M729.5 443.0v2" stroke="#c04000" fill="none" shape-rendering="crispEdges"/>
<path d="M733.5 434.5h4l3 3v4l-3 3h-4l-3 -3v-4z" fill="none" stroke="#c04000" stroke-width="1.5"/>
<path d="M729.0 439.5h2M740.0 439.5h2M735.5 433.0v2M735.5 444.0v2" stroke="#c04000" fill="none" shape-rendering="crispEdges"/>
<path d="M780.5 398.5h4l3 3v4l-3 3h-4l-3 -3v-4z" fill="none" stroke="#c04000" stroke-width="1.5"/>
<path d="M776.0 403.5h2M787.0 403.5h2M782.5 397.0v2M782.5 408.0v2" stroke="#c04000" fill="none" shape-rendering="crispEdges"/>
<path d="M786.5 404.5h4l3 3v4l-3 3h-4l-3 -3v-4z" fill="none" stroke="#c04000" stroke-width="1.5"/>
<path d="M782.0 409.5h2M793.0 409.5h2M788.5 403.0v2M788.5 414.0v2" stroke="#c04000" fill="none" shape-rendering="crispEdges"/>
<path d="M833.5 375.5h4l3 3v4l-3 3h-4l-3 -3v-4z" fill="none" stroke="#c04000" stroke-width="1.5"/>
<path d="M829.0 380.5h2M840.0 380.5h2M835.5 374.0v2M835.5 385.0v2" stroke="#c04000" fill="none" shape-rendering="crispEdges"/>
<path d="M838.5 443.5h4l3 3v4l-3 3h-4l-3 -3v-4z" fill="none" stroke="#c04000" stroke-width="1.5"/>
<path d="M834.0 448.5h2M845.0 448.5h2M840.5 442.0v2M840.5 453.0v2" stroke="#c04000" fill="none" shape-rendering="crispEdges"/>
<path d="M885.5 330.5h4l3 3v4l-3 3h-4l-3 -3v-4z" fill="none" stroke="#c04000" stroke-width="1.5"/>
<path d="M881.0 335.5h2M892.0 335.5h2M887.5 329.0v2M887.5 340.0v2" stroke="#c04000" fill="none" shape-rendering="crispEdges"/>
<path d="M891.5 342.5h4l3 3v4l-3 3h-4l-3 -3v-4z" fill="none" stroke="#c04000" stroke-width="1.5"/>
<path d="M887.0 347.5h2M898.0 347.5h2M893.5 341.0v2M893.5 352.0v2" stroke="#c04000" fill="none" shape-rendering="crispEdges"/>
<path d="M938.5 425.5h4l3 3v4l-3 3h-4l-3 -3v-4z" fill="none" stroke="#c04000" stroke-width="1.5"/>
<path d="M934.0 430.5h2M945.0 430.5h2M940.5 424.0v2M940.5 435.0v2" stroke="#c04000" fill="none" shape-rendering="crispEdges"/>
<path d="M943.5 338.5h4l3 3v4l-3 3h-4l-3 -3v-4z" fill="none" stroke="#c04000" stroke-width="1.5"/>
<path d="M939.0 343.5h2M950.0 343.5h2M945.5 337.0v2M945.5 348.0v2" stroke="#c04000" fill="none" shape-rendering="crispEdges"/>
<path d="M991.5 358.5h4l3 3v4l-3 3h-4l-3 -3v-4z" fill="none" stroke="#c04000" stroke-width="1.5"/>
<path d="M987.0 363.5h2M998.0 363.5h2M993.5 357.0v2M993.5 368.0v2" stroke="#c04000" fill="none" shape-rendering="crispEdges"/>
<path d="M997.5 368.5h4l3 3v4l-3 3h-4l-3 -3v-4z" fill="none" stroke="#c04000" stroke-width="1.5"/>
<path d="M993.0 373.5h2M1004.0 373.5h2M999.5 367.0v2M999.5 378.0v2" stroke="#c04000" fill="none" shape-rendering="crispEdges"/>
<path d="M1043.5 421.5h4l3 3v4l-3 3h-4l-3 -3v-4z" fill="none" stroke="#c04000" stroke-width="1.5"/>
<path d="M1039.0 426.5h2M1050.0 426.5h2M1045.5 420.0v2M1045.5 431.0v2" stroke="#c04000" fill="none" shape-rendering="crispEdges"/>
<path d="M1050.5 328.5h4l3 3v4l-3 3h-4l-3 -3v-4z" fill="none" stroke="#c04000" stroke-width="1.5"/>
<path d="M1046.0 333.5h2M1057.0 333.5h2M1052.5 327.0v2M1052.5 338.0v2" stroke="#c04000" fill="none" shape-rendering="crispEdges"/>
<path d="M1096.5 415.5h4l3 3v4l-3 3h-4l-3 -3v-4z" fill="none" stroke="#c04000" stroke-width="1.5"/>
<path d="M1092.0 420.5h2M1103.0 420.5h2M1098.5 414.0v2M1098.5 425.0v2" stroke="#c04000" fill="none" shape-rendering="crispEdges"/>
<path d="M1102.5 356.5h4l3 3v4l-3 3h-4l-3 -3v-4z" fill="none" stroke="#c04000" stroke-width="1.5"/>
<path d="M1098.0 361.5h2M1109.0 361.5h2M1104.5 355.0v2M1104.5 366.0v2" stroke="#c04000" fill="none" shape-rendering="crispEdges"/>
<path d="M1149.5 350.5h4l3 3v4l-3 3h-4l-3 -3v-4z" fill="none" stroke="#c04000" stroke-width="1.5"/>
<path d="M1145.0 355.5h2M1156.0 355.5h2M1151.5 349.0v2M1151.5 360.0v2" stroke="#c04000" fill="none" shape-rendering="crispEdges"/>
<path d="M1155.5 365.5h4l3 3v4l-3 3h-4l-3 -3v-4z" fill="none" stroke="#c04000" stroke-width="1.5"/>
<path d="M1151.0 370.5h2M1162.0 370.5h2M1157.5 364.0v2M1157.5 375.0v2" stroke="#c04000" fill="none" shape-rendering="crispEdges"/>
<path d="M1201.5 441.5h4l3 3v4l-3 3h-4l-3 -3v-4z" fill="none" stroke="#c04000" stroke-width="1.5"/>
<path d="M1197.0 446.5h2M1208.0 446.5h2M1203.5 440.0v2M1203.5 451.0v2" stroke="#c04000" fill="none" shape-rendering="crispEdges"/>
<path d="M1208.5 418.5h4l3 3v4l-3 3h-4l-3 -3v-4z" fill="none" stroke="#c04000" stroke-width="1.5"/>
<path d="M1204.0 423.5h2M1215.0 423.5h2M1210.5 417.0v2M1210.5 428.0v2" stroke="#c04000" fill="none" shape-rendering="crispEdges"/>
<path d="M1254.5 436.5h4l3 3v4l-3 3h-4l-3 -3v-4z" fill="none" stroke="#c04000" stroke-width="1.5"/>
<path d="M1250.0 441.5h2M1261.0 441.5h2M1256.5 435.0v2M1256.5 446.0v2" stroke="#c04000" fill="none" shape-rendering="crispEdges"/>
<path d="M1260.5 443.5h4l3 3v4l-3 3h-4l-3 -3v-4z" fill="none" stroke="#c04000" stroke-width="1.5"/>
<path d="M1256.0 448.5h2M1267.0 448.5h2M1262.5 442.0v2M1262.5 453.0v2" stroke="#c04000" fill="none" shape-rendering="crispEdges"/>
<path d="M1307.5 448.5h4l3 3v4l-3 3h-4l-3 -3v-4z" fill="none" stroke="#c04000" stroke-width="1.5"/>
<path d="M1303.0 453.5h2M1314.0 453.5h2M1309.5 447.0v2M1309.5 458.0v2" stroke="#c04000" fill="none" shape-rendering="crispEdges"/>
<path d="M1313.5 429.5h4l3 3v4l-3 3h-4l-3 -3v-4z" fill="none" stroke="#c04000" stroke-width="1.5"/>
<path d="M1309.0 434.5h2M1320.0 434.5h2M1315.5 428.0v2M1315.5 439.0v2" stroke="#c04000" fill="none" shape-rendering="crispEdges"/>
<path d="M1360.5 463.5h4l3 3v4l-3 3h-4l-3 -3v-4z" fill="none" stroke="#c04000" stroke-width="1.5"/>
<path d="M1356.0 468.5h2M1367.0 468.5h2M1362.5 462.0v2M1362.5 473.0v2" stroke="#c04000" fill="none" shape-rendering="crispEdges"/>
<path d="M100.5 534.0h6l2.5 2.5v6l-2.5 2.5h-6l-2.5 -2.5v-6zM103.0 533.0h1v13h-1z" fill="#c8c800"/>
<path d="M146.5 534.0h6l2.5 2.5v6l-2.5 2.5h-6l-2.5 -2.5v-6zM149.0 533.0h1v13h-1z" fill="#c8c800"/>
<path d="M205.5 534.0h6l2.5 2.5v6l-2.5 2.5h-6l-2.5 -2.5v-6zM208.0 533.0h1v13h-1z" fill="#c8c800"/>
<path d="M252.5 534.0h6l2.5 2.5v6l-2.5 2.5h-6l-2.5 -2.5v-6zM255.0 533.0h1v13h-1z" fill="#c8c800"/>
<path d="M258.5 534.0h6l2.5 2.5v6l-2.5 2.5h-6l-2.5 -2.5v-6zM261.0 533.0h1v13h-1z" fill="#c8c800"/>
<path d="M304.5 534.0h6l2.5 2.5v6l-2.5 2.5h-6l-2.5 -2.5v-6zM307.0 533.0h1v13h-1z" fill="#c8c800"/>
<path d="M311.5 534.0h6l2.5 2.5v6l-2.5 2.5h-6l-2.5 -2.5v-6zM314.0 533.0h1v13h-1z" fill="#c8c800"/>
<path d="M357.5 534.0h6l2.5 2.5v6l-2.5 2.5h-6l-2.5 -2.5v-6zM360.0 533.0h1v13h-1z" fill="#c8c800"/>
<path d="M363.5 534.0h6l2.5 2.5v6l-2.5 2.5h-6l-2.5 -2.5v-6zM366.0 533.0h1v13h-1z" fill="#c8c800"/>
<path d="M410.5 534.0h6l2.5 2.5v6l-2.5 2.5h-6l-2.5 -2.5v-6zM413.0 533.0h1v13h-1z" fill="#c8c800"/>
<path d="M416.5 534.0h6l2.5 2.5v6l-2.5 2.5h-6l-2.5 -2.5v-6zM419.0 533.0h1v13h-1z" fill="#c8c800"/>
<path d="M463.5 534.0h6l2.5 2.5v6l-2.5 2.5h-6l-2.5 -2.5v-6zM466.0 533.0h1v13h-1z" fill="#c8c800"/>
<path d="M469.5 534.0h6l2.5 2.5v6l-2.5 2.5h-6l-2.5 -2.5v-6zM472.0 533.0h1v13h-1z" fill="#c8c800"/>
<path d="M515.5 534.0h6l2.5 2.5v6l-2.5 2.5h-6l-2.5 -2.5v-6zM518.0 533.0h1v13h-1z" fill="#c8c800"/>
<path d="M521.5 534.0h6l2.5 2.5v6l-2.5 2.5h-6l-2.5 -2.5v-6zM524.0 533.0h1v13h-1z" fill="#c8c800"/>
<path d="M568.5 534.0h6l2.5 2.5v6l-2.5 2.5h-6l-2.5 -2.5v-6zM571.0 533.0h1v13h-1z" fill="#c8c800"/>
<path d="M574.5 534.0h6l2.5 2.5v6l-2.5 2.5h-6l-2.5 -2.5v-6zM577.0 533.0h1v13h-1z" fill="#c8c800"/>
<path d="M621.5 534.0h6l2.5 2.5v6l-2.5 2.5h-6l-2.5 -2.5v-6zM624.0 533.0h1v13h-1z" fill="#c8c800"/>
<path d="M627.5 534.0h6l2.5 2.5v6l-2.5 2.5h-6l-2.5 -2.5v-6zM630.0 533.0h1v13h-1z" fill="#c8c800"/>
<path d="M673.5 534.0h6l2.5 2.5v6l-2.5 2.5h-6l-2.5 -2.5v-6zM676.0 533.0h1v13h-1z" fill="#c8c800"/>
<path d="M680.5 534.0h6l2.5 2.5v6l-2.5 2.5h-6l-2.5 -2.5v-6zM683.0 533.0h1v13h-1z" fill="#c8c800"/>
<path d="M726.5 534.0h6l2.5 2.5v6l-2.5 2.5h-6l-2.5 -2.5v-6zM729.0 533.0h1v13h-1z" fill="#c8c800"/>
<path d="M732.5 534.0h6l2.5 2.5v6l-2.5 2.5h-6l-2.5 -2.5v-6zM735.0 533.0h1v13h-1z" fill="#c8c800"/>
<path d="M779.5 534.0h6l2.5 2.5v6l-2.5 2.5h-6l-2.5 -2.5v-6zM782.0 533.0h1v13h-1z" fill="#c8c800"/>
<path d="M785.5 534.0h6l2.5 2.5v6l-2.5 2.5h-6l-2.5 -2.5v-6zM788.0 533.0h1v13h-1z" fill="#c8c800"/>
<path d="M832.5 534.0h6l2.5 2.5v6l-2.5 2.5h-6l-2.5 -2.5v-6zM835.0 533.0h1v13h-1z" fill="#c8c800"/>
<path d="M837.5 534.0h6l2.5 2.5v6l-2.5 2.5h-6l-2.5 -2.5v-6zM840.0 533.0h1v13h-1z" fill="#c8c800"/>
<path d="M884.5 534.0h6l2.5 2.5v6l-2.5 2.5h-6l-2.5 -2.5v-6zM887.0 533.0h1v13h-1z" fill="#c8c800"/>
<path d="M890.5 534.0h6l2.5 2.5v6l-2.5 2.5h-6l-2.5 -2.5v-6zM893.0 533.0h1v13h-1z" fill="#c8c800"/>
<path d="M937.5 534.0h6l2.5 2.5v6l-2.5 2.5h-6l-2.5 -2.5v-6zM940.0 533.0h1v13h-1z" fill="#c8c800"/>
<path d="M942.5 534.0h6l2.5 2.5v6l-2.5 2.5h-6l-2.5 -2.5v-6zM945.0 533.0h1v13h-1z" fill="#c8c800"/>
<path d="M990.5 534.0h6l2.5 2.5v6l-2.5 2.5h-6l-2.5 -2.5v-6zM993.0 533.0h1v13h-1z" fill="#c8c800"/>
<path d="M996.5 534.0h6l2.5 2.5v6l-2.5 2.5h-6l-2.5 -2.5v-6zM999.0 533.0h1v13h-1z" fill="#c8c800"/>
<path d="M1042.5 534.0h6l2.5 2.5v6l-2.5 2.5h-6l-2.5 -2.5v-6zM1045.0 533.0h1v13h-1z" fill="#c8c800"/>
<path d="M1049.5 534.0h6l2.5 2.5v6l-2.5 2.5h-6l-2.5 -2.5v-6zM1052.0 533.0h1v13h-1z" fill="#c8c800"/>
<path d="M1095.5 534.0h6l2.5 2.5v6l-2.5 2.5h-6l-2.5 -2.5v-6zM1098.0 533.0h1v13h-1z" fill="#c8c800"/>
<path d="M1101.5 534.0h6l2.5 2.5v6l-2.5 2.5h-6l-2.5 -2.5v-6zM1104.0 533.0h1v13h-1z" fill="#c8c800"/>
<path d="M1148.5 534.0h6l2.5 2.5v6l-2.5 2.5h-6l-2.5 -2.5v-6zM1151.0 533.0h1v13h-1z" fill="#c8c800"/>
<path d="M1154.5 534.0h6l2.5 2.5v6l-2.5 2.5h-6l-2.5 -2.5v-6zM1157.0 533.0h1v13h-1z" fill="#c8c800"/>
<path d="M1200.5 534.0h6l2.5 2.5v6l-2.5 2.5h-6l-2.5 -2.5v-6zM1203.0 533.0h1v13h-1z" fill="#c8c800"/>
<path d="M1207.5 534.0h6l2.5 2.5v6l-2.5 2.5h-6l-2.5 -2.5v-6zM1210.0 533.0h1v13h-1z" fill="#c8c800"/>
<path d="M1253.5 534.0h6l2.5 2.5v6l-2.5 2.5h-6l-2.5 -2.5v-6zM1256.0 533.0h1v13h-1z" fill="#c8c800"/>
<path d="M1259.5 534.0h6l2.5 2.5v6l-2.5 2.5h-6l-2.5 -2.5v-6zM1262.0 533.0h1v13h-1z" fill="#c8c800"/>
<path d="M1306.5 534.0h6l2.5 2.5v6l-2.5 2.5h-6l-2.5 -2.5v-6zM1309.0 533.0h1v13h-1z" fill="#c8c800"/>
<path d="M1312.5 534.0h6l2.5 2.5v6l-2.5 2.5h-6l-2.5 -2.5v-6zM1315.0 533.0h1v13h-1z" fill="#c8c800"/>
<path d="M1359.5 534.0h6l2.5 2.5v6l-2.5 2.5h-6l-2.5 -2.5v-6zM1362.0 533.0h1v13h-1z" fill="#c8c800"/>
<path d="M206.5 456.5L214.5 468.5H198.5Z" fill="none" stroke="#4169e1" shape-rendering="crispEdges"/>
<path d="M1146.5 456.5L1154.5 468.5H1138.5Z" fill="none" stroke="#4169e1" shape-rendering="crispEdges"/>
<path d="M101.5 401.75L110.0 415.0H93.0Z" fill="#ffc020"/>
<path d="M206.5 401.75L215.0 415.0H198.0Z" fill="#ffc020"/>
<path d="M470.5 401.75L479.0 415.0H462.0Z" fill="#ffc020"/>
<path d="M575.5 401.75L584.0 415.0H567.0Z" fill="#ffc020"/>
<path d="M681.5 401.75L690.0 415.0H673.0Z" fill="#ffc020"/>
<path d="M734.5 401.75L743.0 415.0H726.0Z" fill="#ffc020"/>
<path d="M786.5 401.75L795.0 415.0H778.0Z" fill="#ffc020"/>
<path d="M892.5 401.75L901.0 415.0H884.0Z" fill="#ffc020"/>
<path d="M944.5 401.75L953.0 415.0H936.0Z" fill="#ffc020"/>
<path d="M997.5 401.75L1006.0 415.0H989.0Z" fill="#ffc020"/>
<path d="M1050.5 401.75L1059.0 415.0H1042.0Z" fill="#ffc020"/>
<path d="M200.0 372.5h13M206.5 366.0v13" stroke="#008040" fill="none" shape-rendering="crispEdges"/>
<path d="M673 335H742L734 347.6H681Z M936 335H1006L998 347.6H944Z" fill="#c080ff"/>
<path d="M716.5 348l.5 -1.5l.5 1.5zM978 348l.5 -1.5l.5 1.5z" fill="#fff"/>
<path d="M206.5 340.5L214.5 328.5H198.5Z" fill="none" stroke="#c080ff" shape-rendering="crispEdges"/>
<path d="M206.5 359.5L214.5 347.5H198.5Z" fill="none" stroke="#306080" shape-rendering="crispEdges"/>
<text x="1275.4" y="75.7" text-anchor="end" textLength="212.4" lengthAdjust="spacing">"Ypingresult.txt" using 1:2</text>
<path d="M1288 72.5H1345" stroke="#ff0000" shape-rendering="crispEdges"/>
<text x="1275.4" y="94.7" text-anchor="end" textLength="231.5" lengthAdjust="spacing">"YTimetcpping.txt" using 1:2</text>
<path d="M1288 91.5H1345" stroke="#00c000" shape-rendering="crispEdges"/>
<text x="1275.4" y="113.7" text-anchor="end" textLength="279.5" lengthAdjust="spacing">"YCustPingSiteTimes.txt" using 1:2</text>
<path d="M1288 110.5H1345" stroke="#0080ff" shape-rendering="crispEdges"/>
<text x="1275.4" y="132.7" text-anchor="end" textLength="225.1" lengthAdjust="spacing">"Yofflineresult.txt" using 1:2</text>
<rect x="1310.5" y="123.5" width="12" height="12" fill="none" stroke="#c000ff" shape-rendering="crispEdges"/>
<text x="1275.4" y="151.7" text-anchor="end" textLength="237.4" lengthAdjust="spacing">"Ytcpoff_record.txt" using 1:2</text>
<rect x="1310.5" y="142.5" width="12" height="12" fill="#00eeee" stroke="#00eeee" shape-rendering="crispEdges"/>
<text x="1275.4" y="170.7" text-anchor="end" textLength="198.3" lengthAdjust="spacing">"Ycurltime.txt" using 1:2</text>
<path d="M1314.5 162.5h4l3 3v4l-3 3h-4l-3 -3v-4z" fill="none" stroke="#c04000" stroke-width="1.5"/>
<path d="M1310.0 167.5h2M1321.0 167.5h2M1316.5 161.0v2M1316.5 172.0v2" stroke="#c04000" fill="none" shape-rendering="crispEdges"/>
<text x="1275.4" y="189.7" text-anchor="end" textLength="227.0" lengthAdjust="spacing">"Ycurldnstime.txt" using 1:2</text>
<path d="M1313.5 181.0h6l2.5 2.5v6l-2.5 2.5h-6l-2.5 -2.5v-6zM1316.0 180.0h1v13h-1z" fill="#c8c800"/>
<text x="1275.4" y="208.7" text-anchor="end" textLength="266.7" lengthAdjust="spacing">"YCustPingTimeout.txt" using 1:2</text>
<path d="M1316.5 197.5L1324.5 209.5H1308.5Z" fill="none" stroke="#4169e1" shape-rendering="crispEdges"/>
<text x="1275.4" y="227.7" text-anchor="end" textLength="247.6" lengthAdjust="spacing">"Ypingtargetchange" using 1:2</text>
<path d="M1316.5 216.0L1325.0 229.25H1308.0Z" fill="#ffc020"/>
<text x="1275.4" y="246.7" text-anchor="end" textLength="234.1" lengthAdjust="spacing">"YHPpingresult.txt" using 1:2</text>
<path d="M1310.0 243.5h13M1316.5 237.0v13" stroke="#008040" fill="none" shape-rendering="crispEdges"/>
<text x="1275.4" y="265.7" text-anchor="end" textLength="252.4" lengthAdjust="spacing">"YpingtargetISrouter" using 1:2</text>
<path d="M1316.5 270.5L1324.5 258.5H1308.5Z" fill="none" stroke="#c080ff" shape-rendering="crispEdges"/>
<text x="1275.4" y="284.7" text-anchor="end" textLength="159.3" lengthAdjust="spacing">"Ynoipv6" using 1:2</text>
<path d="M1316.5 289.5L1324.5 277.5H1308.5Z" fill="none" stroke="#306080" shape-rendering="crispEdges"/>
</g>
<g id="front">
<rect x="101.5" y="57.5" width="1265" height="482" fill="none" stroke="#000" shape-rendering="crispEdges"/>
</g>
</svg></body></html>
